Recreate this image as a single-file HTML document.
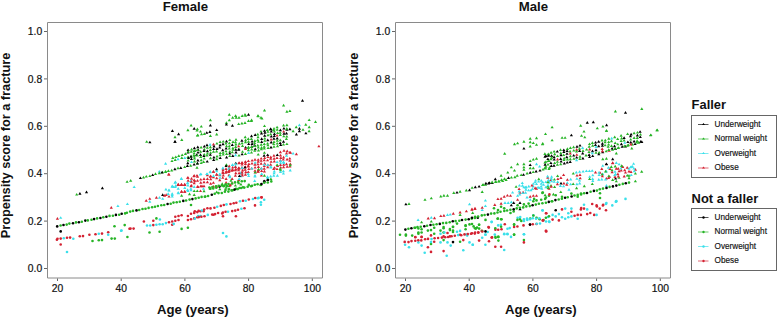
<!DOCTYPE html>
<html><head><meta charset="utf-8"><style>
html,body{margin:0;padding:0;background:#fff;}
svg{display:block;}
text{font-family:"Liberation Sans",sans-serif;fill:#111;}
.tl{font-size:10.3px;stroke:#111;stroke-width:0.2px;}
.tt{font-size:12.9px;font-weight:bold;}
.lg{font-size:8.2px;stroke:#111;stroke-width:0.15px;}
</style></head><body>
<svg width="778" height="318" viewBox="0 0 778 318">
<path d="M47.5,22.5H322.5V278H47.5Z" fill="none" stroke="#8a8a8a" stroke-width="1"/>
<line x1="44" y1="268.5" x2="47" y2="268.5" stroke="#666" stroke-width="1"/>
<text x="42.2" y="272.2" class="tl" text-anchor="end">0.0</text>
<line x1="44" y1="221.1" x2="47" y2="221.1" stroke="#666" stroke-width="1"/>
<text x="42.2" y="224.8" class="tl" text-anchor="end">0.2</text>
<line x1="44" y1="173.7" x2="47" y2="173.7" stroke="#666" stroke-width="1"/>
<text x="42.2" y="177.4" class="tl" text-anchor="end">0.4</text>
<line x1="44" y1="126.3" x2="47" y2="126.3" stroke="#666" stroke-width="1"/>
<text x="42.2" y="130.0" class="tl" text-anchor="end">0.6</text>
<line x1="44" y1="78.9" x2="47" y2="78.9" stroke="#666" stroke-width="1"/>
<text x="42.2" y="82.6" class="tl" text-anchor="end">0.8</text>
<line x1="44" y1="31.5" x2="47" y2="31.5" stroke="#666" stroke-width="1"/>
<text x="42.2" y="35.2" class="tl" text-anchor="end">1.0</text>
<line x1="57.5" y1="278.5" x2="57.5" y2="281" stroke="#666" stroke-width="1"/>
<text x="57.5" y="291.5" class="tl" text-anchor="middle">20</text>
<line x1="121.2" y1="278.5" x2="121.2" y2="281" stroke="#666" stroke-width="1"/>
<text x="121.2" y="291.5" class="tl" text-anchor="middle">40</text>
<line x1="184.9" y1="278.5" x2="184.9" y2="281" stroke="#666" stroke-width="1"/>
<text x="184.9" y="291.5" class="tl" text-anchor="middle">60</text>
<line x1="248.6" y1="278.5" x2="248.6" y2="281" stroke="#666" stroke-width="1"/>
<text x="248.6" y="291.5" class="tl" text-anchor="middle">80</text>
<line x1="312.3" y1="278.5" x2="312.3" y2="281" stroke="#666" stroke-width="1"/>
<text x="312.3" y="291.5" class="tl" text-anchor="middle">100</text>
<text x="185.4" y="10.6" class="tt" text-anchor="middle" style="font-size:13.2px">Female</text>
<text x="192.8" y="314.2" class="tt" text-anchor="middle" style="font-size:13.2px">Age (years)</text>
<text transform="translate(10.4,238.3) rotate(-90)" class="tt" style="font-size:12.75px">Propensity score for a fracture</text>
<path d="M395.5,22.5H670.5V278H395.5Z" fill="none" stroke="#8a8a8a" stroke-width="1"/>
<line x1="392" y1="268.5" x2="395" y2="268.5" stroke="#666" stroke-width="1"/>
<text x="390.2" y="272.2" class="tl" text-anchor="end">0.0</text>
<line x1="392" y1="221.1" x2="395" y2="221.1" stroke="#666" stroke-width="1"/>
<text x="390.2" y="224.8" class="tl" text-anchor="end">0.2</text>
<line x1="392" y1="173.7" x2="395" y2="173.7" stroke="#666" stroke-width="1"/>
<text x="390.2" y="177.4" class="tl" text-anchor="end">0.4</text>
<line x1="392" y1="126.3" x2="395" y2="126.3" stroke="#666" stroke-width="1"/>
<text x="390.2" y="130.0" class="tl" text-anchor="end">0.6</text>
<line x1="392" y1="78.9" x2="395" y2="78.9" stroke="#666" stroke-width="1"/>
<text x="390.2" y="82.6" class="tl" text-anchor="end">0.8</text>
<line x1="392" y1="31.5" x2="395" y2="31.5" stroke="#666" stroke-width="1"/>
<text x="390.2" y="35.2" class="tl" text-anchor="end">1.0</text>
<line x1="405.5" y1="278.5" x2="405.5" y2="281" stroke="#666" stroke-width="1"/>
<text x="405.5" y="291.5" class="tl" text-anchor="middle">20</text>
<line x1="469.2" y1="278.5" x2="469.2" y2="281" stroke="#666" stroke-width="1"/>
<text x="469.2" y="291.5" class="tl" text-anchor="middle">40</text>
<line x1="532.9" y1="278.5" x2="532.9" y2="281" stroke="#666" stroke-width="1"/>
<text x="532.9" y="291.5" class="tl" text-anchor="middle">60</text>
<line x1="596.6" y1="278.5" x2="596.6" y2="281" stroke="#666" stroke-width="1"/>
<text x="596.6" y="291.5" class="tl" text-anchor="middle">80</text>
<line x1="660.3" y1="278.5" x2="660.3" y2="281" stroke="#666" stroke-width="1"/>
<text x="660.3" y="291.5" class="tl" text-anchor="middle">100</text>
<text x="533.4" y="10.6" class="tt" text-anchor="middle" style="font-size:13.2px">Male</text>
<text x="540.8" y="314.2" class="tt" text-anchor="middle" style="font-size:13.2px">Age (years)</text>
<text transform="translate(358.4,238.3) rotate(-90)" class="tt" style="font-size:12.75px">Propensity score for a fracture</text>
<text x="691.6" y="109.2" class="tt">Faller</text>
<rect x="691.5" y="115.5" width="85" height="62" fill="none" stroke="#666" stroke-width="1"/>
<line x1="698" y1="124.5" x2="708.5" y2="124.5" stroke="#000000" stroke-width="0.9" stroke-opacity="0.75"/>
<path d="M702,125.0 L703.5,123.0 L705,125.0Z" fill="#000000"/>
<text x="714.6" y="126.9" class="lg">Underweight</text>
<line x1="698" y1="139.0" x2="708.5" y2="139.0" stroke="#26b426" stroke-width="0.9" stroke-opacity="0.75"/>
<path d="M702,139.5 L703.5,137.5 L705,139.5Z" fill="#26b426"/>
<text x="714.6" y="141.4" class="lg">Normal weight</text>
<line x1="698" y1="153.5" x2="708.5" y2="153.5" stroke="#3ae0ea" stroke-width="0.9" stroke-opacity="0.75"/>
<path d="M702,154.0 L703.5,152.0 L705,154.0Z" fill="#3ae0ea"/>
<text x="714.6" y="155.9" class="lg">Overweight</text>
<line x1="698" y1="168.0" x2="708.5" y2="168.0" stroke="#d42232" stroke-width="0.9" stroke-opacity="0.75"/>
<path d="M702,168.5 L703.5,166.5 L705,168.5Z" fill="#d42232"/>
<text x="714.6" y="170.4" class="lg">Obese</text>
<text x="691.6" y="203" class="tt">Not a faller</text>
<rect x="691.5" y="208.5" width="85" height="62" fill="none" stroke="#666" stroke-width="1"/>
<line x1="698" y1="217.5" x2="708.5" y2="217.5" stroke="#000000" stroke-width="0.9" stroke-opacity="0.75"/>
<circle cx="703.5" cy="217.5" r="1.2" fill="#000000"/>
<text x="714.6" y="219.9" class="lg">Underweight</text>
<line x1="698" y1="232.0" x2="708.5" y2="232.0" stroke="#26b426" stroke-width="0.9" stroke-opacity="0.75"/>
<circle cx="703.5" cy="232.0" r="1.2" fill="#26b426"/>
<text x="714.6" y="234.4" class="lg">Normal weight</text>
<line x1="698" y1="246.5" x2="708.5" y2="246.5" stroke="#3ae0ea" stroke-width="0.9" stroke-opacity="0.75"/>
<circle cx="703.5" cy="246.5" r="1.2" fill="#3ae0ea"/>
<text x="714.6" y="248.9" class="lg">Overweight</text>
<line x1="698" y1="261.0" x2="708.5" y2="261.0" stroke="#d42232" stroke-width="0.9" stroke-opacity="0.75"/>
<circle cx="703.5" cy="261.0" r="1.2" fill="#d42232"/>
<text x="714.6" y="263.4" class="lg">Obese</text>
<g><path d="M75.1,195.6L76.7,192.9L78.3,195.6Z" fill="#26b426"/><path d="M78.3,194.8L79.9,192.1L81.5,194.8Z" fill="#000000"/><path d="M84.9,193.2L86.5,190.6L88.1,193.2Z" fill="#000000"/><path d="M100.8,189.2L102.4,186.6L104.0,189.2Z" fill="#000000"/><path d="M109.7,208.7L111.3,206.0L112.9,208.7Z" fill="#d42232"/><path d="M116.3,207.1L117.9,204.4L119.5,207.1Z" fill="#3ae0ea"/><path d="M125.8,205.1L127.4,202.4L129.0,205.1Z" fill="#3ae0ea"/><path d="M55.8,219.7L57.4,217.0L59.0,219.7Z" fill="#d42232"/><path d="M59.1,218.8L60.7,216.2L62.3,218.8Z" fill="#3ae0ea"/><circle cx="60.7" cy="231.4" r="1.3" fill="#000000"/><circle cx="114.5" cy="226.2" r="1.3" fill="#26b426"/><circle cx="124.7" cy="225.1" r="1.3" fill="#26b426"/><circle cx="121.5" cy="230.6" r="1.3" fill="#3ae0ea"/><circle cx="56.9" cy="239.8" r="1.3" fill="#d42232"/><circle cx="57.5" cy="238.8" r="1.3" fill="#d42232"/><circle cx="60.7" cy="238.6" r="1.3" fill="#d42232"/><circle cx="67.0" cy="237.8" r="1.3" fill="#d42232"/><circle cx="70.1" cy="237.6" r="1.3" fill="#d42232"/><circle cx="79.8" cy="236.3" r="1.3" fill="#d42232"/><circle cx="83.0" cy="236.1" r="1.3" fill="#d42232"/><circle cx="89.4" cy="234.8" r="1.3" fill="#d42232"/><circle cx="95.5" cy="234.2" r="1.3" fill="#d42232"/><circle cx="102.0" cy="233.6" r="1.3" fill="#d42232"/><circle cx="108.2" cy="232.2" r="1.3" fill="#d42232"/><circle cx="129.5" cy="228.8" r="1.3" fill="#d42232"/><circle cx="63.8" cy="238.2" r="1.3" fill="#3ae0ea"/><circle cx="73.3" cy="238.8" r="1.3" fill="#3ae0ea"/><circle cx="98.8" cy="233.8" r="1.3" fill="#3ae0ea"/><circle cx="108.2" cy="234.8" r="1.3" fill="#3ae0ea"/><circle cx="121.1" cy="230.7" r="1.3" fill="#3ae0ea"/><circle cx="60.7" cy="244.5" r="1.3" fill="#d42232"/><circle cx="67.0" cy="252.0" r="1.3" fill="#3ae0ea"/><circle cx="92.5" cy="241.0" r="1.3" fill="#26b426"/><circle cx="98.8" cy="240.3" r="1.3" fill="#26b426"/><circle cx="102.0" cy="240.1" r="1.3" fill="#26b426"/><circle cx="111.6" cy="238.6" r="1.3" fill="#26b426"/><circle cx="114.8" cy="238.6" r="1.3" fill="#26b426"/><circle cx="127.4" cy="237.0" r="1.3" fill="#26b426"/><path d="M145.1,142.8L146.7,140.2L148.3,142.8Z" fill="#26b426"/><path d="M148.3,143.3L149.9,140.7L151.5,143.3Z" fill="#000000"/><path d="M170.8,132.0L172.4,129.3L174.0,132.0Z" fill="#000000"/><path d="M177.0,135.2L178.6,132.5L180.2,135.2Z" fill="#000000"/><path d="M173.4,138.2L175.0,135.5L176.6,138.2Z" fill="#26b426"/><path d="M173.4,142.8L175.0,140.2L176.6,142.8Z" fill="#000000"/><path d="M180.2,141.0L181.8,138.3L183.4,141.0Z" fill="#26b426"/><path d="M189.5,126.5L191.1,123.8L192.7,126.5Z" fill="#26b426"/><path d="M186.3,131.2L187.9,128.6L189.5,131.2Z" fill="#26b426"/><path d="M192.6,129.7L194.2,127.0L195.8,129.7Z" fill="#000000"/><path d="M195.4,131.6L197.0,128.9L198.6,131.6Z" fill="#26b426"/><path d="M196.2,136.2L197.8,133.6L199.4,136.2Z" fill="#26b426"/><path d="M125.5,182.8L127.1,180.2L128.7,182.8Z" fill="#26b426"/><path d="M129.1,181.8L130.7,179.1L132.3,181.8Z" fill="#26b426"/><path d="M157.7,172.6L159.3,169.9L160.9,172.6Z" fill="#3ae0ea"/><path d="M160.9,173.3L162.5,170.7L164.1,173.3Z" fill="#26b426"/><path d="M164.0,172.6L165.6,169.9L167.2,172.6Z" fill="#26b426"/><path d="M195.4,168.7L197.0,166.0L198.6,168.7Z" fill="#26b426"/><path d="M167.1,175.5L168.7,172.8L170.3,175.5Z" fill="#d42232"/><path d="M164.0,164.8L165.6,162.1L167.2,164.8Z" fill="#3ae0ea"/><path d="M132.6,188.1L134.2,185.4L135.8,188.1Z" fill="#3ae0ea"/><path d="M173.4,142.8L175.0,140.1L176.6,142.8Z" fill="#000000"/><path d="M173.4,183.7L175.0,181.0L176.6,183.7Z" fill="#3ae0ea"/><path d="M176.6,186.0L178.2,183.3L179.8,186.0Z" fill="#d42232"/><path d="M179.7,186.0L181.3,183.3L182.9,186.0Z" fill="#d42232"/><path d="M182.9,186.0L184.5,183.3L186.1,186.0Z" fill="#d42232"/><path d="M186.0,184.3L187.6,181.7L189.2,184.3Z" fill="#3ae0ea"/><path d="M186.0,178.8L187.6,176.2L189.2,178.8Z" fill="#d42232"/><path d="M189.9,179.7L191.5,177.0L193.1,179.7Z" fill="#d42232"/><path d="M192.3,177.3L193.9,174.7L195.5,177.3Z" fill="#d42232"/><path d="M195.4,176.6L197.0,173.9L198.6,176.6Z" fill="#d42232"/><path d="M179.7,179.7L181.3,177.0L182.9,179.7Z" fill="#3ae0ea"/><path d="M189.2,182.2L190.8,179.5L192.4,182.2Z" fill="#3ae0ea"/><path d="M193.1,182.2L194.7,179.5L196.3,182.2Z" fill="#d42232"/><path d="M171.9,188.1L173.5,185.4L175.1,188.1Z" fill="#3ae0ea"/><path d="M174.2,186.8L175.8,184.1L177.4,186.8Z" fill="#3ae0ea"/><path d="M144.6,201.8L146.2,199.1L147.8,201.8Z" fill="#d42232"/><path d="M148.2,199.8L149.8,197.2L151.4,199.8Z" fill="#d42232"/><path d="M148.2,202.8L149.8,200.1L151.4,202.8Z" fill="#3ae0ea"/><path d="M154.8,198.7L156.4,196.0L158.0,198.7Z" fill="#d42232"/><path d="M157.9,198.7L159.5,196.0L161.1,198.7Z" fill="#3ae0ea"/><path d="M161.1,196.0L162.7,193.3L164.3,196.0Z" fill="#000000"/><path d="M162.9,196.7L164.5,194.0L166.1,196.7Z" fill="#d42232"/><path d="M164.6,196.0L166.2,193.3L167.8,196.0Z" fill="#d42232"/><path d="M167.4,197.6L169.0,194.9L170.6,197.6Z" fill="#d42232"/><path d="M161.1,199.8L162.7,197.2L164.3,199.8Z" fill="#3ae0ea"/><path d="M170.6,196.0L172.2,193.3L173.8,196.0Z" fill="#3ae0ea"/><path d="M166.6,195.0L168.2,192.3L169.8,195.0Z" fill="#3ae0ea"/><path d="M164.3,190.5L165.9,187.8L167.5,190.5Z" fill="#3ae0ea"/><path d="M167.4,191.2L169.0,188.6L170.6,191.2Z" fill="#3ae0ea"/><path d="M170.6,187.2L172.2,184.6L173.8,187.2Z" fill="#3ae0ea"/><path d="M173.7,188.1L175.3,185.4L176.9,188.1Z" fill="#3ae0ea"/><path d="M176.9,186.1L178.5,183.4L180.1,186.1Z" fill="#d42232"/><path d="M180.0,186.1L181.6,183.4L183.2,186.1Z" fill="#d42232"/><path d="M183.1,186.1L184.7,183.4L186.3,186.1Z" fill="#d42232"/><path d="M186.3,186.5L187.9,183.8L189.5,186.5Z" fill="#3ae0ea"/><path d="M189.4,187.2L191.0,184.6L192.6,187.2Z" fill="#d42232"/><path d="M196.5,188.1L198.1,185.4L199.7,188.1Z" fill="#d42232"/><path d="M200.4,187.2L202.0,184.6L203.6,187.2Z" fill="#d42232"/><path d="M176.9,194.3L178.5,191.7L180.1,194.3Z" fill="#3ae0ea"/><path d="M180.0,192.8L181.6,190.1L183.2,192.8Z" fill="#d42232"/><path d="M183.1,192.8L184.7,190.1L186.3,192.8Z" fill="#d42232"/><path d="M186.3,192.1L187.9,189.4L189.5,192.1Z" fill="#3ae0ea"/><path d="M189.4,191.2L191.0,188.6L192.6,191.2Z" fill="#3ae0ea"/><path d="M192.6,192.1L194.2,189.4L195.8,192.1Z" fill="#26b426"/><path d="M195.7,192.1L197.3,189.4L198.9,192.1Z" fill="#26b426"/><path d="M198.9,192.1L200.5,189.4L202.1,192.1Z" fill="#d42232"/><path d="M180.0,196.8L181.6,194.1L183.2,196.8Z" fill="#26b426"/><path d="M187.9,195.2L189.5,192.5L191.1,195.2Z" fill="#26b426"/><path d="M192.6,196.0L194.2,193.3L195.8,196.0Z" fill="#26b426"/><circle cx="191.0" cy="205.0" r="1.3" fill="#26b426"/><circle cx="175.3" cy="216.8" r="1.3" fill="#d42232"/><circle cx="178.5" cy="216.0" r="1.3" fill="#d42232"/><circle cx="181.6" cy="215.2" r="1.3" fill="#d42232"/><circle cx="187.9" cy="216.0" r="1.3" fill="#d42232"/><circle cx="191.0" cy="213.7" r="1.3" fill="#d42232"/><circle cx="194.2" cy="212.9" r="1.3" fill="#d42232"/><circle cx="197.3" cy="212.1" r="1.3" fill="#d42232"/><circle cx="200.5" cy="211.3" r="1.3" fill="#d42232"/><circle cx="203.6" cy="211.3" r="1.3" fill="#d42232"/><circle cx="187.9" cy="220.0" r="1.3" fill="#d42232"/><circle cx="191.0" cy="219.2" r="1.3" fill="#d42232"/><circle cx="194.2" cy="218.4" r="1.3" fill="#d42232"/><circle cx="197.3" cy="217.2" r="1.3" fill="#d42232"/><circle cx="153.3" cy="225.1" r="1.3" fill="#d42232"/><circle cx="169.0" cy="222.3" r="1.3" fill="#d42232"/><circle cx="172.2" cy="221.5" r="1.3" fill="#d42232"/><circle cx="175.3" cy="220.7" r="1.3" fill="#d42232"/><circle cx="178.5" cy="220.0" r="1.3" fill="#d42232"/><circle cx="172.2" cy="224.7" r="1.3" fill="#d42232"/><circle cx="143.9" cy="221.5" r="1.3" fill="#d42232"/><circle cx="153.3" cy="220.7" r="1.3" fill="#d42232"/><circle cx="130.5" cy="228.6" r="1.3" fill="#d42232"/><circle cx="133.6" cy="228.6" r="1.3" fill="#d42232"/><circle cx="198.1" cy="216.0" r="1.3" fill="#3ae0ea"/><circle cx="200.5" cy="216.0" r="1.3" fill="#3ae0ea"/><circle cx="147.0" cy="225.5" r="1.3" fill="#3ae0ea"/><circle cx="150.2" cy="225.5" r="1.3" fill="#3ae0ea"/><circle cx="156.4" cy="224.7" r="1.3" fill="#3ae0ea"/><circle cx="159.6" cy="224.2" r="1.3" fill="#3ae0ea"/><circle cx="162.7" cy="224.2" r="1.3" fill="#3ae0ea"/><circle cx="165.9" cy="223.1" r="1.3" fill="#3ae0ea"/><circle cx="173.7" cy="223.9" r="1.3" fill="#3ae0ea"/><circle cx="159.9" cy="219.5" r="1.3" fill="#3ae0ea"/><circle cx="156.4" cy="218.4" r="1.3" fill="#26b426"/><circle cx="181.6" cy="228.9" r="1.3" fill="#26b426"/><circle cx="187.9" cy="227.8" r="1.3" fill="#26b426"/><circle cx="159.6" cy="231.7" r="1.3" fill="#26b426"/><circle cx="149.5" cy="232.5" r="1.3" fill="#26b426"/><path d="M227.7,115.7L229.3,113.0L230.9,115.7Z" fill="#26b426"/><path d="M231.1,118.8L232.7,116.1L234.3,118.8Z" fill="#26b426"/><path d="M234.0,116.9L235.6,114.2L237.2,116.9Z" fill="#26b426"/><path d="M234.6,118.8L236.2,116.1L237.8,118.8Z" fill="#26b426"/><path d="M237.4,118.8L239.0,116.1L240.6,118.8Z" fill="#26b426"/><path d="M240.6,116.9L242.2,114.2L243.8,116.9Z" fill="#26b426"/><path d="M243.4,115.7L245.0,113.0L246.6,115.7Z" fill="#26b426"/><path d="M244.0,116.7L245.6,114.0L247.2,116.7Z" fill="#26b426"/><path d="M262.9,111.4L264.5,108.7L266.1,111.4Z" fill="#26b426"/><path d="M256.3,116.9L257.9,114.2L259.5,116.9Z" fill="#26b426"/><path d="M259.4,118.8L261.0,116.1L262.6,118.8Z" fill="#26b426"/><path d="M237.1,125.1L238.7,122.4L240.3,125.1Z" fill="#26b426"/><path d="M240.3,124.5L241.9,121.8L243.5,124.5Z" fill="#26b426"/><path d="M243.4,124.0L245.0,121.3L246.6,124.0Z" fill="#26b426"/><path d="M246.9,122.0L248.5,119.3L250.1,122.0Z" fill="#26b426"/><path d="M250.0,121.2L251.6,118.6L253.2,121.2Z" fill="#26b426"/><path d="M208.8,121.2L210.4,118.6L212.0,121.2Z" fill="#26b426"/><path d="M227.7,121.2L229.3,118.6L230.9,121.2Z" fill="#26b426"/><path d="M224.8,124.0L226.4,121.3L228.0,124.0Z" fill="#26b426"/><path d="M199.7,127.6L201.3,124.9L202.9,127.6Z" fill="#26b426"/><path d="M195.8,130.2L197.4,127.6L199.0,130.2Z" fill="#26b426"/><path d="M198.9,132.6L200.5,129.9L202.1,132.6Z" fill="#26b426"/><path d="M215.1,135.5L216.7,132.8L218.3,135.5Z" fill="#26b426"/><path d="M208.8,137.0L210.4,134.3L212.0,137.0Z" fill="#26b426"/><path d="M202.8,135.0L204.4,132.3L206.0,135.0Z" fill="#26b426"/><path d="M195.8,136.6L197.4,133.9L199.0,136.6Z" fill="#26b426"/><path d="M199.9,135.3L201.5,132.7L203.1,135.3Z" fill="#26b426"/><path d="M262.9,127.1L264.5,124.4L266.1,127.1Z" fill="#26b426"/><path d="M259.4,132.6L261.0,129.9L262.6,132.6Z" fill="#26b426"/><path d="M265.7,131.1L267.3,128.4L268.9,131.1Z" fill="#26b426"/><path d="M272.0,131.1L273.6,128.4L275.2,131.1Z" fill="#26b426"/><path d="M246.9,115.7L248.5,113.0L250.1,115.7Z" fill="#000000"/><path d="M208.8,126.4L210.4,123.7L212.0,126.4Z" fill="#000000"/><path d="M224.8,125.6L226.4,122.9L228.0,125.6Z" fill="#000000"/><path d="M230.8,126.7L232.4,124.0L234.0,126.7Z" fill="#000000"/><path d="M205.2,133.8L206.8,131.2L208.4,133.8Z" fill="#000000"/><path d="M208.3,133.0L209.9,130.3L211.5,133.0Z" fill="#000000"/><path d="M215.1,131.1L216.7,128.4L218.3,131.1Z" fill="#000000"/><path d="M262.9,131.8L264.5,129.2L266.1,131.8Z" fill="#000000"/><path d="M268.9,130.2L270.5,127.6L272.1,130.2Z" fill="#000000"/><path d="M282.0,106.4L283.6,103.7L285.2,106.4Z" fill="#26b426"/><path d="M285.3,112.7L286.9,110.0L288.5,112.7Z" fill="#26b426"/><path d="M288.3,112.1L289.9,109.4L291.5,112.1Z" fill="#26b426"/><path d="M307.6,121.1L309.2,118.4L310.8,121.1Z" fill="#26b426"/><path d="M313.9,123.0L315.5,120.3L317.1,123.0Z" fill="#26b426"/><path d="M304.2,125.7L305.8,123.0L307.4,125.7Z" fill="#26b426"/><path d="M294.6,128.2L296.2,125.5L297.8,128.2Z" fill="#26b426"/><path d="M307.6,128.2L309.2,125.5L310.8,128.2Z" fill="#26b426"/><path d="M260.4,119.6L262.0,116.9L263.6,119.6Z" fill="#26b426"/><path d="M282.0,126.5L283.6,123.8L285.2,126.5Z" fill="#26b426"/><path d="M285.3,126.2L286.9,123.5L288.5,126.2Z" fill="#26b426"/><path d="M272.4,129.7L274.0,127.0L275.6,129.7Z" fill="#26b426"/><path d="M275.5,128.3L277.1,125.7L278.7,128.3Z" fill="#26b426"/><path d="M307.5,132.2L309.1,129.6L310.7,132.2Z" fill="#26b426"/><path d="M301.4,130.8L303.0,128.2L304.6,130.8Z" fill="#26b426"/><path d="M291.5,132.2L293.1,129.6L294.7,132.2Z" fill="#26b426"/><path d="M256.6,117.2L258.2,114.5L259.8,117.2Z" fill="#26b426"/><path d="M249.8,122.0L251.4,119.3L253.0,122.0Z" fill="#26b426"/><path d="M300.9,101.8L302.5,99.1L304.1,101.8Z" fill="#000000"/><path d="M297.8,129.7L299.4,127.0L301.0,129.7Z" fill="#000000"/><path d="M269.2,130.2L270.8,127.6L272.4,130.2Z" fill="#000000"/><path d="M285.3,130.7L286.9,128.0L288.5,130.7Z" fill="#000000"/><path d="M288.3,130.2L289.9,127.6L291.5,130.2Z" fill="#000000"/><path d="M304.3,134.3L305.9,131.7L307.5,134.3Z" fill="#000000"/><path d="M294.8,135.5L296.4,132.8L298.0,135.5Z" fill="#000000"/><path d="M297.8,132.2L299.4,129.5L301.0,132.2Z" fill="#000000"/><path d="M297.8,126.2L299.4,123.5L301.0,126.2Z" fill="#3ae0ea"/><path d="M317.3,147.3L318.9,144.7L320.5,147.3Z" fill="#d42232"/><path d="M278.8,153.2L280.4,150.5L282.0,153.2Z" fill="#d42232"/><path d="M282.4,151.7L284.0,149.0L285.6,151.7Z" fill="#d42232"/><path d="M285.6,152.2L287.2,149.5L288.8,152.2Z" fill="#d42232"/><path d="M294.8,155.2L296.4,152.6L298.0,155.2Z" fill="#d42232"/><path d="M288.9,153.8L290.5,151.1L292.1,153.8Z" fill="#d42232"/><path d="M291.5,154.6L293.1,151.9L294.7,154.6Z" fill="#3ae0ea"/><path d="M262.5,156.8L264.1,154.1L265.7,156.8Z" fill="#000000"/><path d="M266.1,156.1L267.7,153.4L269.3,156.1Z" fill="#000000"/><path d="M256.6,155.6L258.2,152.9L259.8,155.6Z" fill="#26b426"/><path d="M262.8,153.8L264.4,151.2L266.0,153.8Z" fill="#26b426"/><path d="M262.5,182.2L264.1,179.5L265.7,182.2Z" fill="#000000"/><path d="M266.1,180.8L267.7,178.1L269.3,180.8Z" fill="#000000"/><path d="M266.1,178.7L267.7,176.0L269.3,178.7Z" fill="#3ae0ea"/><path d="M269.3,180.1L270.9,177.4L272.5,180.1Z" fill="#26b426"/><path d="M259.3,186.1L260.9,183.4L262.5,186.1Z" fill="#26b426"/><path d="M259.8,176.6L261.4,173.9L263.0,176.6Z" fill="#d42232"/><path d="M253.4,177.6L255.0,174.9L256.6,177.6Z" fill="#3ae0ea"/><path d="M278.9,171.2L280.5,168.5L282.1,171.2Z" fill="#26b426"/><circle cx="257.8" cy="198.3" r="1.3" fill="#3ae0ea"/><circle cx="261.4" cy="197.2" r="1.3" fill="#d42232"/><circle cx="264.2" cy="199.7" r="1.3" fill="#3ae0ea"/><circle cx="260.9" cy="202.2" r="1.3" fill="#3ae0ea"/><circle cx="260.9" cy="204.7" r="1.3" fill="#3ae0ea"/><circle cx="255.0" cy="205.4" r="1.3" fill="#d42232"/><circle cx="225.5" cy="189.9" r="1.3" fill="#26b426"/><circle cx="229.0" cy="189.2" r="1.3" fill="#26b426"/><circle cx="232.5" cy="190.2" r="1.3" fill="#26b426"/><circle cx="236.0" cy="188.9" r="1.3" fill="#26b426"/><circle cx="239.5" cy="188.0" r="1.3" fill="#26b426"/><circle cx="243.0" cy="187.3" r="1.3" fill="#26b426"/><circle cx="248.8" cy="184.9" r="1.3" fill="#26b426"/><circle cx="252.0" cy="185.7" r="1.3" fill="#26b426"/><circle cx="264.4" cy="181.4" r="1.3" fill="#000000"/><circle cx="267.9" cy="180.0" r="1.3" fill="#000000"/><circle cx="260.8" cy="184.9" r="1.3" fill="#26b426"/><circle cx="223.0" cy="233.0" r="1.3" fill="#3ae0ea"/><circle cx="226.4" cy="236.4" r="1.3" fill="#3ae0ea"/><circle cx="222.9" cy="212.5" r="1.3" fill="#d42232"/><circle cx="235.9" cy="216.3" r="1.3" fill="#d42232"/><circle cx="223.0" cy="216.3" r="1.3" fill="#d42232"/><circle cx="213.6" cy="214.7" r="1.3" fill="#d42232"/><path d="M176.6,185.5L178.2,182.8L179.8,185.5Z" fill="#d42232"/><path d="M179.9,185.5L181.5,182.8L183.1,185.5Z" fill="#d42232"/><path d="M183.2,185.5L184.8,182.8L186.4,185.5Z" fill="#d42232"/><path d="M186.5,178.8L188.1,176.2L189.7,178.8Z" fill="#d42232"/><path d="M189.8,182.8L191.4,180.1L193.0,182.8Z" fill="#d42232"/><path d="M189.8,186.6L191.4,183.9L193.0,186.6Z" fill="#d42232"/><path d="M192.6,176.7L194.2,174.0L195.8,176.7Z" fill="#d42232"/><path d="M192.6,181.1L194.2,178.4L195.8,181.1Z" fill="#d42232"/><path d="M195.9,181.7L197.5,179.0L199.1,181.7Z" fill="#d42232"/><path d="M195.9,187.7L197.5,185.0L199.1,187.7Z" fill="#d42232"/><path d="M199.2,180.6L200.8,177.9L202.4,180.6Z" fill="#d42232"/><path d="M199.2,187.2L200.8,184.5L202.4,187.2Z" fill="#d42232"/><path d="M202.4,180.0L204.0,177.3L205.6,180.0Z" fill="#d42232"/><path d="M202.4,187.2L204.0,184.5L205.6,187.2Z" fill="#d42232"/><path d="M205.8,180.0L207.4,177.3L209.0,180.0Z" fill="#d42232"/><path d="M209.1,177.2L210.7,174.5L212.3,177.2Z" fill="#d42232"/><path d="M209.1,180.2L210.7,177.5L212.3,180.2Z" fill="#d42232"/><path d="M211.8,172.8L213.4,170.2L215.0,172.8Z" fill="#d42232"/><path d="M211.8,183.8L213.4,181.2L215.0,183.8Z" fill="#d42232"/><path d="M215.1,175.6L216.7,172.9L218.3,175.6Z" fill="#d42232"/><path d="M215.1,187.7L216.7,185.0L218.3,187.7Z" fill="#d42232"/><path d="M221.2,173.3L222.8,170.7L224.4,173.3Z" fill="#d42232"/><path d="M224.5,172.8L226.1,170.2L227.7,172.8Z" fill="#d42232"/><path d="M227.4,172.2L229.0,169.5L230.6,172.2Z" fill="#d42232"/><path d="M230.5,171.7L232.1,169.0L233.7,171.7Z" fill="#d42232"/><path d="M221.2,178.8L222.8,176.2L224.4,178.8Z" fill="#d42232"/><path d="M224.5,180.0L226.1,177.3L227.7,180.0Z" fill="#d42232"/><path d="M230.5,180.0L232.1,177.3L233.7,180.0Z" fill="#d42232"/><path d="M233.8,176.7L235.4,174.0L237.0,176.7Z" fill="#d42232"/><path d="M237.1,181.1L238.7,178.4L240.3,181.1Z" fill="#d42232"/><path d="M240.3,174.7L241.9,172.0L243.5,174.7Z" fill="#d42232"/><path d="M179.9,192.7L181.5,190.0L183.1,192.7Z" fill="#d42232"/><path d="M183.2,192.7L184.8,190.0L186.4,192.7Z" fill="#d42232"/><path d="M167.3,175.6L168.9,172.9L170.5,175.6Z" fill="#d42232"/><path d="M186.5,181.7L188.1,179.0L189.7,181.7Z" fill="#d42232"/><path d="M192.6,184.2L194.2,181.5L195.8,184.2Z" fill="#d42232"/><path d="M199.2,183.7L200.8,181.0L202.4,183.7Z" fill="#d42232"/><path d="M202.4,183.2L204.0,180.5L205.6,183.2Z" fill="#d42232"/><path d="M205.8,183.2L207.4,180.5L209.0,183.2Z" fill="#d42232"/><path d="M209.1,184.7L210.7,182.0L212.3,184.7Z" fill="#d42232"/><path d="M211.8,178.2L213.4,175.5L215.0,178.2Z" fill="#d42232"/><path d="M215.1,179.2L216.7,176.5L218.3,179.2Z" fill="#d42232"/><path d="M218.2,176.2L219.8,173.5L221.4,176.2Z" fill="#d42232"/><path d="M218.2,181.2L219.8,178.5L221.4,181.2Z" fill="#d42232"/><path d="M227.4,176.2L229.0,173.5L230.6,176.2Z" fill="#d42232"/><path d="M233.8,171.2L235.4,168.5L237.0,171.2Z" fill="#d42232"/><path d="M237.1,169.7L238.7,167.0L240.3,169.7Z" fill="#d42232"/><path d="M240.3,168.7L241.9,166.0L243.5,168.7Z" fill="#d42232"/><path d="M205.8,176.2L207.4,173.5L209.0,176.2Z" fill="#d42232"/><path d="M195.9,177.7L197.5,175.0L199.1,177.7Z" fill="#d42232"/><path d="M211.8,187.7L213.4,185.0L215.0,187.7Z" fill="#d42232"/><path d="M224.5,183.7L226.1,181.0L227.7,183.7Z" fill="#d42232"/><path d="M230.5,184.2L232.1,181.5L233.7,184.2Z" fill="#d42232"/><path d="M179.9,180.0L181.5,177.3L183.1,180.0Z" fill="#3ae0ea"/><path d="M173.9,183.2L175.5,180.6L177.1,183.2Z" fill="#3ae0ea"/><path d="M170.6,187.7L172.2,185.0L173.8,187.7Z" fill="#3ae0ea"/><path d="M167.3,191.6L168.9,188.9L170.5,191.6Z" fill="#3ae0ea"/><path d="M170.6,194.8L172.2,192.2L173.8,194.8Z" fill="#3ae0ea"/><path d="M170.6,197.6L172.2,194.9L173.8,197.6Z" fill="#3ae0ea"/><path d="M176.6,193.8L178.2,191.1L179.8,193.8Z" fill="#3ae0ea"/><path d="M186.0,183.8L187.6,181.2L189.2,183.8Z" fill="#3ae0ea"/><path d="M186.0,191.0L187.6,188.3L189.2,191.0Z" fill="#3ae0ea"/><path d="M189.3,189.8L190.9,187.2L192.5,189.8Z" fill="#3ae0ea"/><path d="M192.6,188.0L194.2,185.3L195.8,188.0Z" fill="#3ae0ea"/><path d="M198.6,175.6L200.2,172.9L201.8,175.6Z" fill="#3ae0ea"/><path d="M201.9,189.8L203.5,187.2L205.1,189.8Z" fill="#3ae0ea"/><path d="M205.2,175.1L206.8,172.4L208.4,175.1Z" fill="#3ae0ea"/><path d="M208.5,173.3L210.1,170.7L211.7,173.3Z" fill="#3ae0ea"/><path d="M218.4,175.6L220.0,172.9L221.6,175.6Z" fill="#3ae0ea"/><path d="M218.4,178.8L220.0,176.2L221.6,178.8Z" fill="#3ae0ea"/><path d="M228.3,178.3L229.9,175.7L231.5,178.3Z" fill="#3ae0ea"/><path d="M239.3,174.0L240.9,171.3L242.5,174.0Z" fill="#3ae0ea"/><path d="M239.3,177.2L240.9,174.5L242.5,177.2Z" fill="#3ae0ea"/><path d="M215.1,172.2L216.7,169.5L218.3,172.2Z" fill="#3ae0ea"/><path d="M221.4,169.7L223.0,167.0L224.6,169.7Z" fill="#3ae0ea"/><path d="M227.4,168.7L229.0,166.0L230.6,168.7Z" fill="#3ae0ea"/><path d="M233.8,167.7L235.4,165.0L237.0,167.7Z" fill="#3ae0ea"/><path d="M183.2,189.0L184.8,186.3L186.4,189.0Z" fill="#3ae0ea"/><path d="M176.6,189.7L178.2,187.0L179.8,189.7Z" fill="#3ae0ea"/><path d="M220.6,185.0L222.2,182.3L223.8,185.0Z" fill="#26b426"/><path d="M222.8,186.6L224.4,183.9L226.0,186.6Z" fill="#26b426"/><path d="M224.5,188.8L226.1,186.1L227.7,188.8Z" fill="#26b426"/><path d="M229.4,181.7L231.0,179.0L232.6,181.7Z" fill="#26b426"/><path d="M233.8,186.6L235.4,183.9L237.0,186.6Z" fill="#26b426"/><path d="M239.3,185.5L240.9,182.8L242.5,185.5Z" fill="#26b426"/><path d="M208.5,189.8L210.1,187.2L211.7,189.8Z" fill="#26b426"/><path d="M215.1,193.2L216.7,190.5L218.3,193.2Z" fill="#26b426"/><path d="M218.2,190.2L219.8,187.5L221.4,190.2Z" fill="#26b426"/><path d="M202.4,192.2L204.0,189.5L205.6,192.2Z" fill="#26b426"/><path d="M227.4,187.2L229.0,184.5L230.6,187.2Z" fill="#26b426"/><path d="M237.1,184.2L238.7,181.5L240.3,184.2Z" fill="#26b426"/><path d="M227.6,167.2L229.2,164.5L230.8,167.2Z" fill="#d42232"/><path d="M227.6,169.7L229.2,167.0L230.8,169.7Z" fill="#d42232"/><path d="M231.1,171.1L232.7,168.4L234.3,171.1Z" fill="#d42232"/><path d="M234.2,170.2L235.8,167.6L237.4,170.2Z" fill="#d42232"/><path d="M237.4,164.3L239.0,161.7L240.6,164.3Z" fill="#d42232"/><path d="M237.4,169.2L239.0,166.5L240.6,169.2Z" fill="#d42232"/><path d="M240.5,164.1L242.1,161.4L243.7,164.1Z" fill="#d42232"/><path d="M240.5,169.2L242.1,166.5L243.7,169.2Z" fill="#d42232"/><path d="M243.7,162.8L245.3,160.2L246.9,162.8Z" fill="#d42232"/><path d="M243.7,168.0L245.3,165.3L246.9,168.0Z" fill="#d42232"/><path d="M246.8,167.6L248.4,164.9L250.0,167.6Z" fill="#d42232"/><path d="M224.4,173.8L226.0,171.2L227.6,173.8Z" fill="#d42232"/><path d="M221.3,174.2L222.9,171.6L224.5,174.2Z" fill="#d42232"/><path d="M211.9,172.7L213.5,170.0L215.1,172.7Z" fill="#d42232"/><path d="M208.7,177.8L210.3,175.1L211.9,177.8Z" fill="#d42232"/><path d="M215.0,175.8L216.6,173.1L218.2,175.8Z" fill="#d42232"/><path d="M234.2,174.2L235.8,171.6L237.4,174.2Z" fill="#d42232"/><path d="M227.2,173.1L228.8,170.4L230.4,173.1Z" fill="#d42232"/><path d="M231.1,166.0L232.7,163.3L234.3,166.0Z" fill="#3ae0ea"/><path d="M221.3,169.2L222.9,166.5L224.5,169.2Z" fill="#3ae0ea"/><path d="M208.7,172.7L210.3,170.0L211.9,172.7Z" fill="#3ae0ea"/><path d="M205.6,175.1L207.2,172.4L208.8,175.1Z" fill="#3ae0ea"/><path d="M199.3,175.1L200.9,172.4L202.5,175.1Z" fill="#3ae0ea"/><path d="M211.9,177.0L213.5,174.3L215.1,177.0Z" fill="#3ae0ea"/><path d="M218.1,175.3L219.7,172.7L221.3,175.3Z" fill="#3ae0ea"/><path d="M228.0,177.0L229.6,174.3L231.2,177.0Z" fill="#3ae0ea"/><path d="M215.0,170.2L216.6,167.6L218.2,170.2Z" fill="#000000"/><path d="M234.2,164.3L235.8,161.7L237.4,164.3Z" fill="#000000"/><path d="M224.8,166.0L226.4,163.3L228.0,166.0Z" fill="#26b426"/><circle cx="57.2" cy="226.4" r="1.3" fill="#000000"/><circle cx="60.6" cy="225.5" r="1.3" fill="#26b426"/><circle cx="63.5" cy="225.0" r="1.3" fill="#000000"/><circle cx="66.7" cy="224.6" r="1.3" fill="#26b426"/><circle cx="69.4" cy="223.6" r="1.3" fill="#26b426"/><circle cx="73.0" cy="223.2" r="1.3" fill="#000000"/><circle cx="76.0" cy="222.4" r="1.3" fill="#26b426"/><circle cx="78.9" cy="222.2" r="1.3" fill="#000000"/><circle cx="81.8" cy="221.8" r="1.3" fill="#26b426"/><circle cx="85.3" cy="220.6" r="1.3" fill="#000000"/><circle cx="87.8" cy="220.4" r="1.3" fill="#26b426"/><circle cx="91.5" cy="219.7" r="1.3" fill="#26b426"/><circle cx="94.1" cy="219.1" r="1.3" fill="#000000"/><circle cx="97.1" cy="218.4" r="1.3" fill="#26b426"/><circle cx="100.4" cy="218.0" r="1.3" fill="#000000"/><circle cx="103.3" cy="217.2" r="1.3" fill="#26b426"/><circle cx="106.4" cy="216.8" r="1.3" fill="#000000"/><circle cx="109.5" cy="215.9" r="1.3" fill="#26b426"/><circle cx="112.9" cy="215.7" r="1.3" fill="#26b426"/><circle cx="115.9" cy="214.9" r="1.3" fill="#000000"/><circle cx="119.2" cy="214.7" r="1.3" fill="#26b426"/><circle cx="121.7" cy="213.8" r="1.3" fill="#000000"/><circle cx="125.1" cy="213.4" r="1.3" fill="#26b426"/><path d="M138.8,179.1L140.4,176.4L142.0,179.1Z" fill="#000000"/><path d="M141.9,178.5L143.5,175.8L145.1,178.5Z" fill="#26b426"/><path d="M144.7,177.6L146.3,175.0L147.9,177.6Z" fill="#26b426"/><path d="M148.3,177.0L149.9,174.4L151.5,177.0Z" fill="#26b426"/><path d="M151.1,176.0L152.7,173.4L154.3,176.0Z" fill="#000000"/><path d="M153.9,174.9L155.5,172.3L157.1,174.9Z" fill="#26b426"/><path d="M157.7,174.3L159.3,171.6L160.9,174.3Z" fill="#26b426"/><path d="M160.4,173.6L162.0,170.9L163.6,173.6Z" fill="#000000"/><path d="M164.0,172.9L165.6,170.2L167.2,172.9Z" fill="#26b426"/><path d="M166.8,171.9L168.4,169.3L170.0,171.9Z" fill="#26b426"/><path d="M170.1,171.4L171.7,168.7L173.3,171.4Z" fill="#26b426"/><path d="M173.3,170.3L174.9,167.6L176.5,170.3Z" fill="#000000"/><path d="M176.4,169.2L178.0,166.5L179.6,169.2Z" fill="#26b426"/><path d="M179.2,168.9L180.8,166.3L182.4,168.9Z" fill="#000000"/><path d="M183.1,168.0L184.7,165.4L186.3,168.0Z" fill="#26b426"/><path d="M185.8,166.9L187.4,164.2L189.0,166.9Z" fill="#000000"/><path d="M189.1,166.7L190.7,164.1L192.3,166.7Z" fill="#26b426"/><path d="M192.5,165.6L194.1,162.9L195.7,165.6Z" fill="#000000"/><path d="M195.7,164.5L197.3,161.9L198.9,164.5Z" fill="#26b426"/><path d="M170.4,162.1L172.0,159.5L173.6,162.1Z" fill="#26b426"/><path d="M173.6,160.9L175.2,158.2L176.8,160.9Z" fill="#26b426"/><path d="M176.4,160.2L178.0,157.5L179.6,160.2Z" fill="#3ae0ea"/><path d="M180.2,158.9L181.8,156.3L183.4,158.9Z" fill="#26b426"/><path d="M183.2,159.0L184.8,156.3L186.4,159.0Z" fill="#3ae0ea"/><path d="M186.4,158.1L188.0,155.5L189.6,158.1Z" fill="#26b426"/><path d="M189.5,157.2L191.1,154.5L192.7,157.2Z" fill="#26b426"/><path d="M192.3,156.3L193.9,153.7L195.5,156.3Z" fill="#26b426"/><path d="M195.0,156.0L196.6,153.4L198.2,156.0Z" fill="#000000"/><path d="M171.2,158.9L172.8,156.3L174.4,158.9Z" fill="#26b426"/><path d="M174.2,158.1L175.8,155.5L177.4,158.1Z" fill="#26b426"/><path d="M177.2,156.9L178.8,154.3L180.4,156.9Z" fill="#26b426"/><path d="M180.6,156.1L182.2,153.5L183.8,156.1Z" fill="#26b426"/><path d="M183.8,154.9L185.4,152.2L187.0,154.9Z" fill="#26b426"/><path d="M186.3,153.5L187.9,150.9L189.5,153.5Z" fill="#000000"/><path d="M189.6,152.8L191.2,150.2L192.8,152.8Z" fill="#26b426"/><path d="M193.4,151.9L195.0,149.3L196.6,151.9Z" fill="#26b426"/><path d="M196.5,150.9L198.1,148.2L199.7,150.9Z" fill="#000000"/><circle cx="126.9" cy="212.7" r="1.3" fill="#26b426"/><circle cx="130.2" cy="211.6" r="1.3" fill="#26b426"/><circle cx="133.0" cy="210.9" r="1.3" fill="#26b426"/><circle cx="136.5" cy="210.4" r="1.3" fill="#000000"/><circle cx="139.2" cy="210.0" r="1.3" fill="#26b426"/><circle cx="142.5" cy="209.0" r="1.3" fill="#26b426"/><circle cx="145.5" cy="208.7" r="1.3" fill="#26b426"/><circle cx="148.6" cy="207.9" r="1.3" fill="#26b426"/><circle cx="152.1" cy="207.3" r="1.3" fill="#26b426"/><circle cx="155.0" cy="206.7" r="1.3" fill="#26b426"/><circle cx="157.9" cy="206.0" r="1.3" fill="#26b426"/><circle cx="161.3" cy="205.2" r="1.3" fill="#26b426"/><circle cx="164.2" cy="205.0" r="1.3" fill="#26b426"/><circle cx="167.6" cy="204.0" r="1.3" fill="#000000"/><circle cx="170.7" cy="203.7" r="1.3" fill="#26b426"/><circle cx="173.5" cy="202.6" r="1.3" fill="#26b426"/><circle cx="176.7" cy="202.3" r="1.3" fill="#26b426"/><circle cx="179.8" cy="201.7" r="1.3" fill="#26b426"/><circle cx="183.3" cy="200.9" r="1.3" fill="#000000"/><circle cx="186.1" cy="200.5" r="1.3" fill="#26b426"/><circle cx="189.6" cy="199.6" r="1.3" fill="#26b426"/><circle cx="192.4" cy="199.1" r="1.3" fill="#000000"/><circle cx="195.6" cy="198.4" r="1.3" fill="#26b426"/><circle cx="198.7" cy="197.8" r="1.3" fill="#26b426"/><circle cx="201.6" cy="196.9" r="1.3" fill="#26b426"/><circle cx="205.3" cy="196.6" r="1.3" fill="#26b426"/><circle cx="204.8" cy="196.7" r="1.3" fill="#26b426"/><circle cx="208.1" cy="196.0" r="1.3" fill="#26b426"/><circle cx="211.8" cy="194.8" r="1.3" fill="#000000"/><circle cx="214.7" cy="193.8" r="1.3" fill="#26b426"/><circle cx="218.5" cy="193.1" r="1.3" fill="#26b426"/><circle cx="221.8" cy="193.0" r="1.3" fill="#26b426"/><circle cx="224.9" cy="191.7" r="1.3" fill="#26b426"/><circle cx="228.4" cy="191.6" r="1.3" fill="#26b426"/><circle cx="231.6" cy="190.4" r="1.3" fill="#26b426"/><circle cx="234.6" cy="189.6" r="1.3" fill="#000000"/><circle cx="237.8" cy="189.1" r="1.3" fill="#26b426"/><circle cx="241.2" cy="188.0" r="1.3" fill="#26b426"/><circle cx="244.3" cy="187.6" r="1.3" fill="#26b426"/><circle cx="247.7" cy="186.7" r="1.3" fill="#26b426"/><circle cx="251.1" cy="186.3" r="1.3" fill="#26b426"/><circle cx="254.8" cy="184.8" r="1.3" fill="#26b426"/><circle cx="257.6" cy="184.3" r="1.3" fill="#26b426"/><circle cx="261.5" cy="184.0" r="1.3" fill="#000000"/><circle cx="264.3" cy="182.8" r="1.3" fill="#26b426"/><circle cx="267.8" cy="182.5" r="1.3" fill="#26b426"/><circle cx="271.3" cy="181.4" r="1.3" fill="#26b426"/><circle cx="210.3" cy="188.6" r="1.3" fill="#26b426"/><circle cx="213.2" cy="188.4" r="1.3" fill="#26b426"/><circle cx="216.3" cy="187.7" r="1.3" fill="#26b426"/><circle cx="219.5" cy="186.6" r="1.3" fill="#000000"/><circle cx="223.7" cy="186.2" r="1.3" fill="#26b426"/><circle cx="226.9" cy="186.1" r="1.3" fill="#26b426"/><circle cx="230.3" cy="185.4" r="1.3" fill="#d42232"/><circle cx="194.8" cy="211.3" r="1.3" fill="#d42232"/><circle cx="198.6" cy="210.9" r="1.3" fill="#d42232"/><circle cx="201.8" cy="210.5" r="1.3" fill="#3ae0ea"/><circle cx="204.2" cy="209.5" r="1.3" fill="#d42232"/><circle cx="207.4" cy="208.3" r="1.3" fill="#d42232"/><circle cx="210.5" cy="208.4" r="1.3" fill="#d42232"/><circle cx="214.4" cy="207.7" r="1.3" fill="#d42232"/><circle cx="217.2" cy="206.8" r="1.3" fill="#3ae0ea"/><circle cx="220.8" cy="205.9" r="1.3" fill="#d42232"/><circle cx="223.8" cy="205.0" r="1.3" fill="#d42232"/><circle cx="226.5" cy="204.4" r="1.3" fill="#3ae0ea"/><circle cx="230.5" cy="204.0" r="1.3" fill="#d42232"/><circle cx="233.7" cy="203.2" r="1.3" fill="#d42232"/><circle cx="236.3" cy="202.8" r="1.3" fill="#d42232"/><circle cx="240.0" cy="201.3" r="1.3" fill="#3ae0ea"/><circle cx="243.0" cy="200.7" r="1.3" fill="#d42232"/><circle cx="245.7" cy="200.8" r="1.3" fill="#3ae0ea"/><circle cx="248.8" cy="199.5" r="1.3" fill="#d42232"/><circle cx="252.9" cy="199.0" r="1.3" fill="#3ae0ea"/><circle cx="255.2" cy="198.0" r="1.3" fill="#d42232"/><circle cx="258.6" cy="197.9" r="1.3" fill="#3ae0ea"/><circle cx="261.6" cy="197.4" r="1.3" fill="#d42232"/><circle cx="194.9" cy="218.6" r="1.3" fill="#3ae0ea"/><circle cx="198.8" cy="217.1" r="1.3" fill="#d42232"/><circle cx="201.4" cy="216.7" r="1.3" fill="#d42232"/><circle cx="204.5" cy="216.3" r="1.3" fill="#d42232"/><circle cx="207.8" cy="214.9" r="1.3" fill="#3ae0ea"/><circle cx="212.2" cy="214.6" r="1.3" fill="#d42232"/><circle cx="215.1" cy="214.1" r="1.3" fill="#d42232"/><circle cx="218.1" cy="213.0" r="1.3" fill="#d42232"/><circle cx="222.2" cy="213.5" r="1.3" fill="#d42232"/><circle cx="225.6" cy="211.8" r="1.3" fill="#d42232"/><circle cx="228.0" cy="211.8" r="1.3" fill="#3ae0ea"/><circle cx="232.2" cy="211.1" r="1.3" fill="#d42232"/><circle cx="235.2" cy="210.6" r="1.3" fill="#d42232"/><circle cx="238.0" cy="209.8" r="1.3" fill="#d42232"/><circle cx="241.4" cy="208.8" r="1.3" fill="#3ae0ea"/><circle cx="244.5" cy="208.2" r="1.3" fill="#d42232"/><circle cx="209.4" cy="187.6" r="1.3" fill="#26b426"/><circle cx="212.4" cy="187.1" r="1.3" fill="#26b426"/><circle cx="215.9" cy="186.3" r="1.3" fill="#26b426"/><circle cx="218.7" cy="185.7" r="1.3" fill="#26b426"/><circle cx="221.9" cy="185.5" r="1.3" fill="#26b426"/><circle cx="225.7" cy="184.4" r="1.3" fill="#26b426"/><circle cx="228.5" cy="184.0" r="1.3" fill="#26b426"/><circle cx="232.0" cy="183.5" r="1.3" fill="#26b426"/><circle cx="235.0" cy="182.4" r="1.3" fill="#26b426"/><circle cx="238.2" cy="181.9" r="1.3" fill="#26b426"/><circle cx="241.8" cy="181.3" r="1.3" fill="#26b426"/><circle cx="244.7" cy="181.1" r="1.3" fill="#26b426"/><path d="M186.5,151.1L188.1,148.5L189.7,151.1Z" fill="#000000"/><path d="M186.7,152.8L188.3,150.1L189.9,152.8Z" fill="#26b426"/><path d="M186.9,158.9L188.5,156.2L190.1,158.9Z" fill="#000000"/><path d="M186.5,161.6L188.1,158.9L189.7,161.6Z" fill="#26b426"/><path d="M186.2,164.2L187.8,161.5L189.4,164.2Z" fill="#000000"/><path d="M190.0,150.4L191.6,147.7L193.2,150.4Z" fill="#26b426"/><path d="M189.4,157.7L191.0,155.1L192.6,157.7Z" fill="#000000"/><path d="M189.8,160.1L191.4,157.4L193.0,160.1Z" fill="#000000"/><path d="M189.9,163.0L191.5,160.4L193.1,163.0Z" fill="#3ae0ea"/><path d="M192.8,149.2L194.4,146.5L196.0,149.2Z" fill="#000000"/><path d="M192.5,152.1L194.1,149.4L195.7,152.1Z" fill="#26b426"/><path d="M192.5,154.3L194.1,151.7L195.7,154.3Z" fill="#26b426"/><path d="M192.7,157.5L194.3,154.8L195.9,157.5Z" fill="#26b426"/><path d="M192.9,159.4L194.5,156.7L196.1,159.4Z" fill="#26b426"/><path d="M192.9,162.5L194.5,159.8L196.1,162.5Z" fill="#26b426"/><path d="M196.2,148.3L197.8,145.6L199.4,148.3Z" fill="#000000"/><path d="M195.8,151.1L197.4,148.4L199.0,151.1Z" fill="#26b426"/><path d="M196.4,153.5L198.0,150.9L199.6,153.5Z" fill="#000000"/><path d="M195.7,156.4L197.3,153.8L198.9,156.4Z" fill="#26b426"/><path d="M196.3,161.4L197.9,158.7L199.5,161.4Z" fill="#000000"/><path d="M195.9,164.4L197.5,161.8L199.1,164.4Z" fill="#000000"/><path d="M199.5,148.4L201.1,145.7L202.7,148.4Z" fill="#26b426"/><path d="M199.0,152.7L200.6,150.1L202.2,152.7Z" fill="#26b426"/><path d="M198.9,155.9L200.5,153.3L202.1,155.9Z" fill="#000000"/><path d="M199.2,157.9L200.8,155.2L202.4,157.9Z" fill="#26b426"/><path d="M199.6,161.3L201.2,158.6L202.8,161.3Z" fill="#26b426"/><path d="M199.6,164.0L201.2,161.4L202.8,164.0Z" fill="#26b426"/><path d="M202.7,147.4L204.3,144.7L205.9,147.4Z" fill="#000000"/><path d="M202.7,150.4L204.3,147.7L205.9,150.4Z" fill="#26b426"/><path d="M202.4,152.0L204.0,149.3L205.6,152.0Z" fill="#000000"/><path d="M202.7,155.5L204.3,152.9L205.9,155.5Z" fill="#26b426"/><path d="M202.3,157.1L203.9,154.5L205.5,157.1Z" fill="#000000"/><path d="M202.6,159.6L204.2,156.9L205.8,159.6Z" fill="#26b426"/><path d="M202.0,162.9L203.6,160.3L205.2,162.9Z" fill="#26b426"/><path d="M205.4,146.2L207.0,143.6L208.6,146.2Z" fill="#000000"/><path d="M205.7,148.8L207.3,146.1L208.9,148.8Z" fill="#26b426"/><path d="M205.8,152.3L207.4,149.6L209.0,152.3Z" fill="#000000"/><path d="M205.9,154.6L207.5,152.0L209.1,154.6Z" fill="#26b426"/><path d="M205.4,156.4L207.0,153.8L208.6,156.4Z" fill="#26b426"/><path d="M205.6,162.6L207.2,160.0L208.8,162.6Z" fill="#000000"/><path d="M208.5,145.8L210.1,143.1L211.7,145.8Z" fill="#3ae0ea"/><path d="M208.8,148.2L210.4,145.6L212.0,148.2Z" fill="#26b426"/><path d="M208.7,150.9L210.3,148.3L211.9,150.9Z" fill="#26b426"/><path d="M209.0,153.8L210.6,151.2L212.2,153.8Z" fill="#26b426"/><path d="M208.7,155.8L210.3,153.2L211.9,155.8Z" fill="#000000"/><path d="M208.9,159.2L210.5,156.6L212.1,159.2Z" fill="#26b426"/><path d="M211.9,145.5L213.5,142.8L215.1,145.5Z" fill="#d42232"/><path d="M212.4,147.5L214.0,144.8L215.6,147.5Z" fill="#000000"/><path d="M212.0,150.1L213.6,147.5L215.2,150.1Z" fill="#000000"/><path d="M211.9,152.8L213.5,150.1L215.1,152.8Z" fill="#26b426"/><path d="M212.3,158.4L213.9,155.7L215.5,158.4Z" fill="#000000"/><path d="M212.1,160.9L213.7,158.2L215.3,160.9Z" fill="#000000"/><path d="M215.3,144.5L216.9,141.9L218.5,144.5Z" fill="#26b426"/><path d="M215.4,150.0L217.0,147.3L218.6,150.0Z" fill="#000000"/><path d="M215.0,152.4L216.6,149.8L218.2,152.4Z" fill="#26b426"/><path d="M215.4,157.4L217.0,154.7L218.6,157.4Z" fill="#26b426"/><path d="M215.2,160.3L216.8,157.6L218.4,160.3Z" fill="#26b426"/><path d="M218.5,143.1L220.1,140.5L221.7,143.1Z" fill="#26b426"/><path d="M218.5,146.2L220.1,143.5L221.7,146.2Z" fill="#000000"/><path d="M218.1,148.5L219.7,145.9L221.3,148.5Z" fill="#000000"/><path d="M218.6,154.1L220.2,151.5L221.8,154.1Z" fill="#26b426"/><path d="M218.5,156.3L220.1,153.6L221.7,156.3Z" fill="#26b426"/><path d="M218.6,159.0L220.2,156.4L221.8,159.0Z" fill="#000000"/><path d="M221.6,142.6L223.2,139.9L224.8,142.6Z" fill="#26b426"/><path d="M221.4,145.3L223.0,142.6L224.6,145.3Z" fill="#000000"/><path d="M221.1,151.3L222.7,148.6L224.3,151.3Z" fill="#000000"/><path d="M221.5,153.7L223.1,151.0L224.7,153.7Z" fill="#26b426"/><path d="M221.6,155.6L223.2,152.9L224.8,155.6Z" fill="#26b426"/><path d="M224.9,142.4L226.5,139.8L228.1,142.4Z" fill="#000000"/><path d="M224.4,144.4L226.0,141.8L227.6,144.4Z" fill="#26b426"/><path d="M224.9,147.2L226.5,144.5L228.1,147.2Z" fill="#26b426"/><path d="M224.5,149.6L226.1,147.0L227.7,149.6Z" fill="#000000"/><path d="M224.4,152.3L226.0,149.7L227.6,152.3Z" fill="#26b426"/><path d="M225.0,154.9L226.6,152.3L228.2,154.9Z" fill="#26b426"/><path d="M225.0,158.4L226.6,155.8L228.2,158.4Z" fill="#000000"/><path d="M228.2,141.1L229.8,138.5L231.4,141.1Z" fill="#26b426"/><path d="M227.8,144.2L229.4,141.5L231.0,144.2Z" fill="#26b426"/><path d="M227.7,147.2L229.3,144.5L230.9,147.2Z" fill="#26b426"/><path d="M227.7,149.6L229.3,147.0L230.9,149.6Z" fill="#26b426"/><path d="M228.2,152.6L229.8,149.9L231.4,152.6Z" fill="#26b426"/><path d="M228.2,154.4L229.8,151.7L231.4,154.4Z" fill="#000000"/><path d="M228.2,157.1L229.8,154.4L231.4,157.1Z" fill="#26b426"/><path d="M231.4,142.9L233.0,140.2L234.6,142.9Z" fill="#26b426"/><path d="M230.7,145.9L232.3,143.3L233.9,145.9Z" fill="#000000"/><path d="M231.3,149.2L232.9,146.5L234.5,149.2Z" fill="#26b426"/><path d="M231.3,150.7L232.9,148.1L234.5,150.7Z" fill="#26b426"/><path d="M230.7,153.3L232.3,150.7L233.9,153.3Z" fill="#26b426"/><path d="M231.2,156.9L232.8,154.2L234.4,156.9Z" fill="#000000"/><path d="M234.4,140.7L236.0,138.1L237.6,140.7Z" fill="#26b426"/><path d="M233.9,143.3L235.5,140.7L237.1,143.3Z" fill="#26b426"/><path d="M234.3,145.5L235.9,142.8L237.5,145.5Z" fill="#26b426"/><path d="M234.1,147.9L235.7,145.2L237.3,147.9Z" fill="#26b426"/><path d="M234.2,150.8L235.8,148.1L237.4,150.8Z" fill="#000000"/><path d="M234.4,153.5L236.0,150.8L237.6,153.5Z" fill="#000000"/><path d="M234.0,156.3L235.6,153.6L237.2,156.3Z" fill="#3ae0ea"/><path d="M237.7,144.7L239.3,142.0L240.9,144.7Z" fill="#26b426"/><path d="M237.1,147.3L238.7,144.7L240.3,147.3Z" fill="#d42232"/><path d="M237.4,150.2L239.0,147.5L240.6,150.2Z" fill="#26b426"/><path d="M240.3,141.8L241.9,139.1L243.5,141.8Z" fill="#000000"/><path d="M240.5,144.3L242.1,141.7L243.7,144.3Z" fill="#26b426"/><path d="M240.9,147.0L242.5,144.3L244.1,147.0Z" fill="#26b426"/><path d="M243.6,138.2L245.2,135.6L246.8,138.2Z" fill="#26b426"/><path d="M244.0,141.3L245.6,138.6L247.2,141.3Z" fill="#26b426"/><path d="M243.9,143.3L245.5,140.6L247.1,143.3Z" fill="#26b426"/><path d="M244.0,148.6L245.6,145.9L247.2,148.6Z" fill="#000000"/><path d="M246.7,139.9L248.3,137.3L249.9,139.9Z" fill="#26b426"/><path d="M246.9,142.8L248.5,140.1L250.1,142.8Z" fill="#26b426"/><path d="M247.1,145.0L248.7,142.4L250.3,145.0Z" fill="#000000"/><path d="M246.9,148.2L248.5,145.5L250.1,148.2Z" fill="#26b426"/><path d="M249.9,137.3L251.5,134.6L253.1,137.3Z" fill="#000000"/><path d="M249.8,140.0L251.4,137.3L253.0,140.0Z" fill="#26b426"/><path d="M250.5,142.6L252.1,139.9L253.7,142.6Z" fill="#000000"/><path d="M250.5,145.0L252.1,142.3L253.7,145.0Z" fill="#000000"/><path d="M250.2,147.8L251.8,145.1L253.4,147.8Z" fill="#000000"/><path d="M253.6,135.9L255.2,133.3L256.8,135.9Z" fill="#000000"/><path d="M253.3,141.9L254.9,139.2L256.5,141.9Z" fill="#26b426"/><path d="M253.1,144.1L254.7,141.5L256.3,144.1Z" fill="#26b426"/><path d="M253.1,146.4L254.7,143.8L256.3,146.4Z" fill="#000000"/><path d="M256.2,135.5L257.8,132.8L259.4,135.5Z" fill="#26b426"/><path d="M256.4,138.2L258.0,135.5L259.6,138.2Z" fill="#26b426"/><path d="M256.2,141.1L257.8,138.4L259.4,141.1Z" fill="#26b426"/><path d="M256.8,142.7L258.4,140.0L260.0,142.7Z" fill="#26b426"/><path d="M259.9,134.5L261.5,131.8L263.1,134.5Z" fill="#000000"/><path d="M260.1,139.9L261.7,137.2L263.3,139.9Z" fill="#000000"/><path d="M260.1,142.9L261.7,140.3L263.3,142.9Z" fill="#000000"/><path d="M263.3,133.8L264.9,131.1L266.5,133.8Z" fill="#000000"/><path d="M263.1,136.7L264.7,134.0L266.3,136.7Z" fill="#000000"/><path d="M263.2,139.6L264.8,137.0L266.4,139.6Z" fill="#26b426"/><path d="M263.2,141.8L264.8,139.2L266.4,141.8Z" fill="#26b426"/><path d="M266.3,132.8L267.9,130.2L269.5,132.8Z" fill="#26b426"/><path d="M266.4,136.3L268.0,133.6L269.6,136.3Z" fill="#26b426"/><path d="M266.2,141.2L267.8,138.6L269.4,141.2Z" fill="#000000"/><path d="M269.7,132.6L271.3,130.0L272.9,132.6Z" fill="#000000"/><path d="M269.1,135.3L270.7,132.7L272.3,135.3Z" fill="#26b426"/><path d="M269.7,137.5L271.3,134.9L272.9,137.5Z" fill="#000000"/><path d="M269.5,140.6L271.1,137.9L272.7,140.6Z" fill="#d42232"/><path d="M272.8,132.5L274.4,129.9L276.0,132.5Z" fill="#26b426"/><path d="M272.8,135.1L274.4,132.4L276.0,135.1Z" fill="#000000"/><path d="M272.7,137.1L274.3,134.4L275.9,137.1Z" fill="#000000"/><path d="M272.3,139.8L273.9,137.1L275.5,139.8Z" fill="#000000"/><path d="M275.6,130.8L277.2,128.1L278.8,130.8Z" fill="#26b426"/><path d="M276.0,134.1L277.6,131.4L279.2,134.1Z" fill="#26b426"/><path d="M275.5,136.6L277.1,133.9L278.7,136.6Z" fill="#d42232"/><path d="M275.6,139.5L277.2,136.8L278.8,139.5Z" fill="#000000"/><path d="M278.8,131.2L280.4,128.6L282.0,131.2Z" fill="#000000"/><path d="M278.6,133.8L280.2,131.2L281.8,133.8Z" fill="#26b426"/><path d="M278.7,135.9L280.3,133.2L281.9,135.9Z" fill="#26b426"/><path d="M282.3,129.5L283.9,126.9L285.5,129.5Z" fill="#000000"/><path d="M282.1,132.6L283.7,130.0L285.3,132.6Z" fill="#d42232"/><path d="M282.4,134.7L284.0,132.1L285.6,134.7Z" fill="#000000"/><path d="M282.2,137.3L283.8,134.7L285.4,137.3Z" fill="#26b426"/><path d="M285.2,129.7L286.8,127.0L288.4,129.7Z" fill="#26b426"/><path d="M284.9,134.4L286.5,131.7L288.1,134.4Z" fill="#000000"/><path d="M285.2,137.6L286.8,135.0L288.4,137.6Z" fill="#26b426"/><path d="M237.1,150.8L238.7,148.1L240.3,150.8Z" fill="#000000"/><path d="M237.4,156.6L239.0,153.9L240.6,156.6Z" fill="#26b426"/><path d="M240.9,152.8L242.5,150.2L244.1,152.8Z" fill="#26b426"/><path d="M240.5,155.3L242.1,152.7L243.7,155.3Z" fill="#000000"/><path d="M243.9,149.9L245.5,147.2L247.1,149.9Z" fill="#d42232"/><path d="M243.8,154.9L245.4,152.2L247.0,154.9Z" fill="#26b426"/><path d="M246.8,148.9L248.4,146.2L250.0,148.9Z" fill="#26b426"/><path d="M246.8,151.3L248.4,148.6L250.0,151.3Z" fill="#26b426"/><path d="M247.0,153.9L248.6,151.3L250.2,153.9Z" fill="#3ae0ea"/><path d="M250.0,148.1L251.6,145.4L253.2,148.1Z" fill="#26b426"/><path d="M250.1,150.4L251.7,147.8L253.3,150.4Z" fill="#26b426"/><path d="M249.9,153.5L251.5,150.9L253.1,153.5Z" fill="#26b426"/><path d="M253.0,146.9L254.6,144.2L256.2,146.9Z" fill="#26b426"/><path d="M253.6,150.2L255.2,147.5L256.8,150.2Z" fill="#000000"/><path d="M253.2,151.8L254.8,149.2L256.4,151.8Z" fill="#26b426"/><path d="M256.2,146.4L257.8,143.7L259.4,146.4Z" fill="#26b426"/><path d="M256.7,148.6L258.3,145.9L259.9,148.6Z" fill="#26b426"/><path d="M256.9,151.4L258.5,148.8L260.1,151.4Z" fill="#26b426"/><path d="M259.6,145.7L261.2,143.0L262.8,145.7Z" fill="#26b426"/><path d="M259.9,148.7L261.5,146.1L263.1,148.7Z" fill="#26b426"/><path d="M259.8,150.2L261.4,147.5L263.0,150.2Z" fill="#26b426"/><path d="M262.7,145.1L264.3,142.5L265.9,145.1Z" fill="#26b426"/><path d="M262.6,147.7L264.2,145.0L265.8,147.7Z" fill="#26b426"/><path d="M262.7,149.4L264.3,146.8L265.9,149.4Z" fill="#26b426"/><path d="M266.0,144.5L267.6,141.9L269.2,144.5Z" fill="#26b426"/><path d="M266.3,146.3L267.9,143.7L269.5,146.3Z" fill="#26b426"/><path d="M266.5,149.0L268.1,146.4L269.7,149.0Z" fill="#26b426"/><path d="M269.6,143.4L271.2,140.7L272.8,143.4Z" fill="#000000"/><path d="M269.4,148.5L271.0,145.8L272.6,148.5Z" fill="#000000"/><path d="M272.4,143.0L274.0,140.3L275.6,143.0Z" fill="#26b426"/><path d="M272.1,145.1L273.7,142.4L275.3,145.1Z" fill="#26b426"/><path d="M272.4,147.7L274.0,145.1L275.6,147.7Z" fill="#26b426"/><path d="M275.7,141.7L277.3,139.0L278.9,141.7Z" fill="#26b426"/><path d="M275.6,144.5L277.2,141.9L278.8,144.5Z" fill="#26b426"/><path d="M275.9,147.2L277.5,144.5L279.1,147.2Z" fill="#26b426"/><path d="M278.7,141.2L280.3,138.5L281.9,141.2Z" fill="#26b426"/><path d="M278.6,144.0L280.2,141.4L281.8,144.0Z" fill="#000000"/><path d="M279.1,146.0L280.7,143.3L282.3,146.0Z" fill="#000000"/><path d="M281.9,142.7L283.5,140.1L285.1,142.7Z" fill="#000000"/><path d="M281.9,145.6L283.5,142.9L285.1,145.6Z" fill="#26b426"/><path d="M284.8,140.0L286.4,137.3L288.0,140.0Z" fill="#26b426"/><path d="M285.3,145.1L286.9,142.4L288.5,145.1Z" fill="#26b426"/><path d="M237.5,163.9L239.1,161.2L240.7,163.9Z" fill="#d42232"/><path d="M237.1,169.1L238.7,166.5L240.3,169.1Z" fill="#d42232"/><path d="M237.0,171.2L238.6,168.5L240.2,171.2Z" fill="#d42232"/><path d="M237.5,174.2L239.1,171.5L240.7,174.2Z" fill="#d42232"/><path d="M237.8,177.1L239.4,174.5L241.0,177.1Z" fill="#000000"/><path d="M240.4,163.7L242.0,161.0L243.6,163.7Z" fill="#d42232"/><path d="M240.5,165.5L242.1,162.9L243.7,165.5Z" fill="#d42232"/><path d="M240.5,169.0L242.1,166.3L243.7,169.0Z" fill="#3ae0ea"/><path d="M241.0,171.5L242.6,168.8L244.2,171.5Z" fill="#d42232"/><path d="M240.5,173.5L242.1,170.8L243.7,173.5Z" fill="#d42232"/><path d="M240.8,176.5L242.4,173.8L244.0,176.5Z" fill="#d42232"/><path d="M244.0,163.2L245.6,160.5L247.2,163.2Z" fill="#d42232"/><path d="M243.8,165.1L245.4,162.5L247.0,165.1Z" fill="#d42232"/><path d="M243.4,168.4L245.0,165.7L246.6,168.4Z" fill="#000000"/><path d="M243.6,170.8L245.2,168.1L246.8,170.8Z" fill="#d42232"/><path d="M244.2,173.3L245.8,170.6L247.4,173.3Z" fill="#d42232"/><path d="M243.8,175.7L245.4,173.0L247.0,175.7Z" fill="#d42232"/><path d="M246.8,162.0L248.4,159.4L250.0,162.0Z" fill="#d42232"/><path d="M247.3,165.1L248.9,162.4L250.5,165.1Z" fill="#d42232"/><path d="M246.7,166.7L248.3,164.1L249.9,166.7Z" fill="#d42232"/><path d="M247.2,170.1L248.8,167.4L250.4,170.1Z" fill="#d42232"/><path d="M246.7,173.1L248.3,170.4L249.9,173.1Z" fill="#d42232"/><path d="M246.6,175.0L248.2,172.3L249.8,175.0Z" fill="#3ae0ea"/><path d="M250.5,161.5L252.1,158.9L253.7,161.5Z" fill="#d42232"/><path d="M250.4,164.6L252.0,162.0L253.6,164.6Z" fill="#d42232"/><path d="M250.0,169.6L251.6,166.9L253.2,169.6Z" fill="#d42232"/><path d="M253.4,160.8L255.0,158.1L256.6,160.8Z" fill="#d42232"/><path d="M253.5,163.7L255.1,161.0L256.7,163.7Z" fill="#3ae0ea"/><path d="M253.4,165.7L255.0,163.1L256.6,165.7Z" fill="#d42232"/><path d="M253.5,168.5L255.1,165.9L256.7,168.5Z" fill="#d42232"/><path d="M253.4,171.8L255.0,169.2L256.6,171.8Z" fill="#d42232"/><path d="M253.7,173.6L255.3,171.0L256.9,173.6Z" fill="#d42232"/><path d="M256.6,160.8L258.2,158.2L259.8,160.8Z" fill="#d42232"/><path d="M256.6,162.8L258.2,160.1L259.8,162.8Z" fill="#d42232"/><path d="M256.3,165.3L257.9,162.7L259.5,165.3Z" fill="#d42232"/><path d="M256.8,167.9L258.4,165.2L260.0,167.9Z" fill="#d42232"/><path d="M256.8,171.0L258.4,168.3L260.0,171.0Z" fill="#d42232"/><path d="M256.4,172.8L258.0,170.2L259.6,172.8Z" fill="#d42232"/><path d="M259.6,159.6L261.2,156.9L262.8,159.6Z" fill="#d42232"/><path d="M259.5,161.8L261.1,159.2L262.7,161.8Z" fill="#d42232"/><path d="M259.5,164.7L261.1,162.1L262.7,164.7Z" fill="#d42232"/><path d="M259.7,169.6L261.3,167.0L262.9,169.6Z" fill="#d42232"/><path d="M260.0,172.1L261.6,169.4L263.2,172.1Z" fill="#d42232"/><path d="M263.1,159.1L264.7,156.5L266.3,159.1Z" fill="#d42232"/><path d="M262.6,161.3L264.2,158.6L265.8,161.3Z" fill="#d42232"/><path d="M263.1,164.8L264.7,162.1L266.3,164.8Z" fill="#d42232"/><path d="M262.7,167.0L264.3,164.4L265.9,167.0Z" fill="#d42232"/><path d="M262.6,169.8L264.2,167.1L265.8,169.8Z" fill="#d42232"/><path d="M262.8,172.4L264.4,169.7L266.0,172.4Z" fill="#d42232"/><path d="M266.3,158.1L267.9,155.4L269.5,158.1Z" fill="#d42232"/><path d="M266.0,161.3L267.6,158.7L269.2,161.3Z" fill="#d42232"/><path d="M266.4,166.3L268.0,163.7L269.6,166.3Z" fill="#d42232"/><path d="M266.1,168.3L267.7,165.7L269.3,168.3Z" fill="#d42232"/><path d="M269.2,158.3L270.8,155.6L272.4,158.3Z" fill="#d42232"/><path d="M269.1,159.8L270.7,157.1L272.3,159.8Z" fill="#d42232"/><path d="M269.5,162.8L271.1,160.2L272.7,162.8Z" fill="#d42232"/><path d="M269.1,165.7L270.7,163.1L272.3,165.7Z" fill="#d42232"/><path d="M269.3,168.6L270.9,165.9L272.5,168.6Z" fill="#3ae0ea"/><path d="M272.3,156.7L273.9,154.0L275.5,156.7Z" fill="#d42232"/><path d="M272.5,159.7L274.1,157.0L275.7,159.7Z" fill="#d42232"/><path d="M272.7,162.4L274.3,159.7L275.9,162.4Z" fill="#d42232"/><path d="M272.1,170.0L273.7,167.4L275.3,170.0Z" fill="#d42232"/><path d="M275.7,156.1L277.3,153.5L278.9,156.1Z" fill="#000000"/><path d="M275.4,158.9L277.0,156.3L278.6,158.9Z" fill="#d42232"/><path d="M276.0,166.9L277.6,164.2L279.2,166.9Z" fill="#d42232"/><path d="M275.4,170.0L277.0,167.4L278.6,170.0Z" fill="#d42232"/><path d="M278.9,156.5L280.5,153.8L282.1,156.5Z" fill="#d42232"/><path d="M279.2,158.9L280.8,156.2L282.4,158.9Z" fill="#d42232"/><path d="M278.8,161.6L280.4,158.9L282.0,161.6Z" fill="#d42232"/><path d="M278.9,164.2L280.5,161.5L282.1,164.2Z" fill="#3ae0ea"/><path d="M278.9,166.1L280.5,163.4L282.1,166.1Z" fill="#d42232"/><path d="M279.1,168.6L280.7,166.0L282.3,168.6Z" fill="#d42232"/><path d="M282.0,158.5L283.6,155.8L285.2,158.5Z" fill="#d42232"/><path d="M281.7,160.6L283.3,157.9L284.9,160.6Z" fill="#d42232"/><path d="M281.9,162.9L283.5,160.3L285.1,162.9Z" fill="#3ae0ea"/><path d="M282.1,165.7L283.7,163.0L285.3,165.7Z" fill="#d42232"/><path d="M282.0,168.3L283.6,165.6L285.2,168.3Z" fill="#d42232"/><path d="M284.9,154.4L286.5,151.8L288.1,154.4Z" fill="#d42232"/><path d="M284.9,156.8L286.5,154.1L288.1,156.8Z" fill="#3ae0ea"/><path d="M285.5,160.5L287.1,157.8L288.7,160.5Z" fill="#d42232"/><path d="M284.9,165.2L286.5,162.6L288.1,165.2Z" fill="#d42232"/><path d="M285.6,167.7L287.2,165.1L288.8,167.7Z" fill="#d42232"/><path d="M288.1,153.6L289.7,151.0L291.3,153.6Z" fill="#d42232"/><path d="M288.2,159.5L289.8,156.9L291.4,159.5Z" fill="#d42232"/><path d="M288.2,161.8L289.8,159.2L291.4,161.8Z" fill="#d42232"/><path d="M288.7,165.0L290.3,162.4L291.9,165.0Z" fill="#d42232"/><path d="M288.3,167.5L289.9,164.9L291.5,167.5Z" fill="#d42232"/><path d="M221.4,171.3L223.0,168.6L224.6,171.3Z" fill="#d42232"/><path d="M221.7,174.0L223.3,171.4L224.9,174.0Z" fill="#d42232"/><path d="M221.7,176.6L223.3,174.0L224.9,176.6Z" fill="#d42232"/><path d="M224.5,167.1L226.1,164.5L227.7,167.1Z" fill="#000000"/><path d="M224.4,169.9L226.0,167.2L227.6,169.9Z" fill="#d42232"/><path d="M225.1,172.6L226.7,169.9L228.3,172.6Z" fill="#d42232"/><path d="M227.5,170.0L229.1,167.3L230.7,170.0Z" fill="#3ae0ea"/><path d="M227.9,171.4L229.5,168.7L231.1,171.4Z" fill="#d42232"/><path d="M230.7,166.0L232.3,163.4L233.9,166.0Z" fill="#3ae0ea"/><path d="M231.1,168.4L232.7,165.8L234.3,168.4Z" fill="#d42232"/><path d="M230.8,170.8L232.4,168.1L234.0,170.8Z" fill="#d42232"/><path d="M234.2,165.2L235.8,162.5L237.4,165.2Z" fill="#3ae0ea"/><path d="M233.9,167.9L235.5,165.3L237.1,167.9Z" fill="#d42232"/><path d="M237.6,180.1L239.2,177.4L240.8,180.1Z" fill="#3ae0ea"/><path d="M247.1,177.0L248.7,174.4L250.3,177.0Z" fill="#3ae0ea"/><path d="M250.3,169.6L251.9,166.9L253.5,169.6Z" fill="#3ae0ea"/><path d="M253.6,173.3L255.2,170.7L256.8,173.3Z" fill="#26b426"/><path d="M253.4,176.5L255.0,173.9L256.6,176.5Z" fill="#3ae0ea"/><path d="M253.1,182.0L254.7,179.3L256.3,182.0Z" fill="#3ae0ea"/><path d="M256.9,170.4L258.5,167.8L260.1,170.4Z" fill="#26b426"/><path d="M256.7,172.5L258.3,169.8L259.9,172.5Z" fill="#d42232"/><path d="M259.8,169.5L261.4,166.9L263.0,169.5Z" fill="#3ae0ea"/><path d="M260.1,174.9L261.7,172.2L263.3,174.9Z" fill="#3ae0ea"/><path d="M262.7,165.8L264.3,163.2L265.9,165.8Z" fill="#3ae0ea"/><path d="M262.8,176.7L264.4,174.0L266.0,176.7Z" fill="#26b426"/><path d="M266.2,166.0L267.8,163.3L269.4,166.0Z" fill="#3ae0ea"/><path d="M265.9,178.0L267.5,175.3L269.1,178.0Z" fill="#3ae0ea"/><path d="M269.3,167.9L270.9,165.2L272.5,167.9Z" fill="#3ae0ea"/><path d="M269.1,177.4L270.7,174.7L272.3,177.4Z" fill="#3ae0ea"/><path d="M272.9,168.8L274.5,166.2L276.1,168.8Z" fill="#d42232"/><path d="M272.7,172.4L274.3,169.7L275.9,172.4Z" fill="#3ae0ea"/><path d="M272.5,174.3L274.1,171.7L275.7,174.3Z" fill="#3ae0ea"/><path d="M272.2,176.8L273.8,174.1L275.4,176.8Z" fill="#3ae0ea"/><path d="M275.5,163.1L277.1,160.5L278.7,163.1Z" fill="#3ae0ea"/><path d="M275.5,166.1L277.1,163.4L278.7,166.1Z" fill="#26b426"/><path d="M275.8,176.7L277.4,174.1L279.0,176.7Z" fill="#3ae0ea"/><path d="M279.2,162.2L280.8,159.6L282.4,162.2Z" fill="#3ae0ea"/><path d="M278.6,170.0L280.2,167.3L281.8,170.0Z" fill="#26b426"/><path d="M278.9,173.0L280.5,170.4L282.1,173.0Z" fill="#3ae0ea"/><path d="M282.2,164.1L283.8,161.5L285.4,164.1Z" fill="#3ae0ea"/><path d="M281.8,172.3L283.4,169.7L285.0,172.3Z" fill="#3ae0ea"/><path d="M281.8,174.6L283.4,172.0L285.0,174.6Z" fill="#3ae0ea"/><path d="M288.7,166.3L290.3,163.6L291.9,166.3Z" fill="#26b426"/><path d="M288.6,171.5L290.2,168.8L291.8,171.5Z" fill="#3ae0ea"/><path d="M404.3,205.3L405.9,202.7L407.5,205.3Z" fill="#000000"/><path d="M407.4,205.0L409.0,202.3L410.6,205.0Z" fill="#26b426"/><path d="M423.4,200.8L425.0,198.2L426.6,200.8Z" fill="#26b426"/><path d="M429.7,199.3L431.3,196.7L432.9,199.3Z" fill="#26b426"/><path d="M439.2,197.5L440.8,194.8L442.4,197.5Z" fill="#26b426"/><path d="M442.3,196.7L443.9,194.0L445.5,196.7Z" fill="#26b426"/><path d="M445.9,196.7L447.5,194.0L449.1,196.7Z" fill="#26b426"/><path d="M452.2,194.0L453.8,191.3L455.4,194.0Z" fill="#26b426"/><path d="M458.5,192.8L460.1,190.1L461.7,192.8Z" fill="#26b426"/><path d="M464.7,191.5L466.3,188.8L467.9,191.5Z" fill="#26b426"/><path d="M455.4,193.6L457.0,190.9L458.6,193.6Z" fill="#000000"/><path d="M467.9,191.2L469.5,188.5L471.1,191.2Z" fill="#000000"/><path d="M416.5,221.1L418.1,218.4L419.7,221.1Z" fill="#3ae0ea"/><path d="M420.0,223.3L421.6,220.7L423.2,223.3Z" fill="#26b426"/><path d="M426.6,219.5L428.2,216.8L429.8,219.5Z" fill="#d42232"/><path d="M429.7,218.7L431.3,216.0L432.9,218.7Z" fill="#3ae0ea"/><path d="M432.9,219.2L434.5,216.5L436.1,219.2Z" fill="#d42232"/><path d="M439.2,217.1L440.8,214.4L442.4,217.1Z" fill="#d42232"/><path d="M442.3,216.7L443.9,214.0L445.5,216.7Z" fill="#d42232"/><path d="M445.9,216.0L447.5,213.3L449.1,216.0Z" fill="#3ae0ea"/><path d="M448.6,215.6L450.2,212.9L451.8,215.6Z" fill="#3ae0ea"/><path d="M451.7,214.8L453.3,212.1L454.9,214.8Z" fill="#d42232"/><path d="M458.5,213.5L460.1,210.8L461.7,213.5Z" fill="#d42232"/><path d="M458.5,216.0L460.1,213.3L461.7,216.0Z" fill="#26b426"/><path d="M464.8,212.3L466.4,209.7L468.0,212.3Z" fill="#d42232"/><path d="M470.3,210.8L471.9,208.2L473.5,210.8Z" fill="#d42232"/><path d="M473.4,210.1L475.0,207.4L476.6,210.1Z" fill="#d42232"/><path d="M467.9,205.3L469.5,202.7L471.1,205.3Z" fill="#3ae0ea"/><path d="M471.1,214.0L472.7,211.3L474.3,214.0Z" fill="#26b426"/><path d="M429.7,222.6L431.3,219.9L432.9,222.6Z" fill="#26b426"/><circle cx="415.3" cy="227.7" r="1.3" fill="#26b426"/><circle cx="418.4" cy="228.5" r="1.3" fill="#26b426"/><circle cx="421.6" cy="229.3" r="1.3" fill="#26b426"/><circle cx="412.2" cy="235.6" r="1.3" fill="#26b426"/><circle cx="418.4" cy="232.5" r="1.3" fill="#26b426"/><circle cx="421.6" cy="232.5" r="1.3" fill="#26b426"/><circle cx="431.0" cy="230.1" r="1.3" fill="#26b426"/><circle cx="434.2" cy="227.7" r="1.3" fill="#26b426"/><circle cx="443.6" cy="227.0" r="1.3" fill="#26b426"/><circle cx="443.6" cy="232.5" r="1.3" fill="#26b426"/><circle cx="449.9" cy="230.1" r="1.3" fill="#26b426"/><circle cx="453.0" cy="227.0" r="1.3" fill="#26b426"/><circle cx="453.0" cy="232.0" r="1.3" fill="#26b426"/><circle cx="465.6" cy="225.4" r="1.3" fill="#26b426"/><circle cx="465.6" cy="229.3" r="1.3" fill="#26b426"/><circle cx="472.0" cy="224.0" r="1.3" fill="#26b426"/><circle cx="477.0" cy="227.5" r="1.3" fill="#26b426"/><circle cx="405.9" cy="235.6" r="1.3" fill="#26b426"/><circle cx="400.0" cy="234.8" r="1.3" fill="#26b426"/><circle cx="405.9" cy="234.6" r="1.3" fill="#26b426"/><circle cx="418.4" cy="233.8" r="1.3" fill="#26b426"/><circle cx="427.9" cy="230.6" r="1.3" fill="#26b426"/><circle cx="434.2" cy="233.8" r="1.3" fill="#26b426"/><circle cx="440.5" cy="230.6" r="1.3" fill="#26b426"/><circle cx="443.6" cy="228.3" r="1.3" fill="#26b426"/><circle cx="449.9" cy="229.1" r="1.3" fill="#26b426"/><circle cx="453.0" cy="226.7" r="1.3" fill="#26b426"/><circle cx="453.0" cy="230.6" r="1.3" fill="#26b426"/><circle cx="457.0" cy="223.6" r="1.3" fill="#26b426"/><circle cx="465.6" cy="225.9" r="1.3" fill="#26b426"/><circle cx="469.5" cy="224.4" r="1.3" fill="#26b426"/><circle cx="475.0" cy="228.3" r="1.3" fill="#26b426"/><circle cx="431.0" cy="244.0" r="1.3" fill="#26b426"/><circle cx="443.6" cy="240.1" r="1.3" fill="#26b426"/><circle cx="460.1" cy="241.7" r="1.3" fill="#26b426"/><circle cx="444.4" cy="232.5" r="1.3" fill="#3ae0ea"/><circle cx="457.0" cy="231.7" r="1.3" fill="#3ae0ea"/><circle cx="460.1" cy="230.9" r="1.3" fill="#3ae0ea"/><circle cx="467.2" cy="235.6" r="1.3" fill="#3ae0ea"/><circle cx="440.5" cy="233.8" r="1.3" fill="#3ae0ea"/><circle cx="466.4" cy="234.6" r="1.3" fill="#3ae0ea"/><circle cx="405.1" cy="244.8" r="1.3" fill="#3ae0ea"/><circle cx="409.0" cy="247.2" r="1.3" fill="#3ae0ea"/><circle cx="418.4" cy="242.4" r="1.3" fill="#3ae0ea"/><circle cx="421.6" cy="245.6" r="1.3" fill="#3ae0ea"/><circle cx="424.7" cy="252.7" r="1.3" fill="#3ae0ea"/><circle cx="440.5" cy="242.4" r="1.3" fill="#3ae0ea"/><circle cx="447.5" cy="242.4" r="1.3" fill="#3ae0ea"/><circle cx="450.7" cy="245.6" r="1.3" fill="#3ae0ea"/><circle cx="446.7" cy="255.8" r="1.3" fill="#3ae0ea"/><circle cx="463.3" cy="250.3" r="1.3" fill="#3ae0ea"/><circle cx="469.5" cy="242.4" r="1.3" fill="#3ae0ea"/><circle cx="472.7" cy="244.8" r="1.3" fill="#3ae0ea"/><circle cx="431.0" cy="242.0" r="1.3" fill="#3ae0ea"/><circle cx="415.3" cy="237.0" r="1.3" fill="#d42232"/><circle cx="421.6" cy="237.0" r="1.3" fill="#d42232"/><circle cx="431.0" cy="235.4" r="1.3" fill="#d42232"/><circle cx="447.5" cy="233.0" r="1.3" fill="#d42232"/><circle cx="427.9" cy="247.2" r="1.3" fill="#d42232"/><circle cx="431.0" cy="251.9" r="1.3" fill="#d42232"/><circle cx="443.6" cy="251.1" r="1.3" fill="#d42232"/><circle cx="434.2" cy="241.7" r="1.3" fill="#d42232"/><circle cx="463.3" cy="240.1" r="1.3" fill="#d42232"/><circle cx="415.3" cy="237.2" r="1.3" fill="#d42232"/><circle cx="421.6" cy="236.9" r="1.3" fill="#d42232"/><circle cx="443.6" cy="236.4" r="1.3" fill="#d42232"/><circle cx="449.9" cy="236.4" r="1.3" fill="#d42232"/><circle cx="460.1" cy="234.8" r="1.3" fill="#d42232"/><circle cx="453.0" cy="242.1" r="1.3" fill="#000000"/><path d="M480.6,193.0L482.2,190.3L483.8,193.0Z" fill="#26b426"/><path d="M470.4,210.2L472.0,207.6L473.6,210.2Z" fill="#d42232"/><path d="M473.4,209.5L475.0,206.8L476.6,209.5Z" fill="#d42232"/><path d="M480.6,208.7L482.2,206.0L483.8,208.7Z" fill="#d42232"/><path d="M493.2,206.0L494.8,203.3L496.4,206.0Z" fill="#d42232"/><path d="M499.5,204.8L501.1,202.1L502.7,204.8Z" fill="#d42232"/><path d="M496.3,200.1L497.9,197.4L499.5,200.1Z" fill="#d42232"/><path d="M499.5,199.8L501.1,197.1L502.7,199.8Z" fill="#d42232"/><path d="M502.6,197.7L504.2,195.0L505.8,197.7Z" fill="#d42232"/><path d="M505.8,196.6L507.4,193.9L509.0,196.6Z" fill="#d42232"/><path d="M508.9,196.8L510.5,194.2L512.1,196.8Z" fill="#d42232"/><path d="M516.0,200.8L517.6,198.2L519.2,200.8Z" fill="#d42232"/><path d="M518.4,193.8L520.0,191.1L521.6,193.8Z" fill="#d42232"/><path d="M521.5,193.5L523.1,190.8L524.7,193.5Z" fill="#d42232"/><path d="M528.6,197.7L530.2,195.0L531.8,197.7Z" fill="#d42232"/><path d="M531.7,196.8L533.3,194.2L534.9,196.8Z" fill="#d42232"/><path d="M534.9,196.8L536.5,194.2L538.1,196.8Z" fill="#d42232"/><path d="M534.9,189.8L536.5,187.1L538.1,189.8Z" fill="#d42232"/><path d="M547.4,189.8L549.0,187.1L550.6,189.8Z" fill="#d42232"/><path d="M483.8,201.6L485.4,198.9L487.0,201.6Z" fill="#3ae0ea"/><path d="M483.8,207.1L485.4,204.4L487.0,207.1Z" fill="#3ae0ea"/><path d="M480.6,211.1L482.2,208.4L483.8,211.1Z" fill="#3ae0ea"/><path d="M503.4,204.0L505.0,201.3L506.6,204.0Z" fill="#3ae0ea"/><path d="M506.6,204.0L508.2,201.3L509.8,204.0Z" fill="#3ae0ea"/><path d="M509.7,203.2L511.3,200.5L512.9,203.2Z" fill="#3ae0ea"/><path d="M516.0,196.8L517.6,194.2L519.2,196.8Z" fill="#3ae0ea"/><path d="M522.3,188.2L523.9,185.6L525.5,188.2Z" fill="#3ae0ea"/><path d="M524.6,188.2L526.2,185.6L527.8,188.2Z" fill="#3ae0ea"/><path d="M527.0,191.3L528.6,188.7L530.2,191.3Z" fill="#3ae0ea"/><path d="M529.4,191.3L531.0,188.7L532.6,191.3Z" fill="#3ae0ea"/><path d="M531.7,187.5L533.3,184.8L534.9,187.5Z" fill="#3ae0ea"/><path d="M534.9,185.1L536.5,182.4L538.1,185.1Z" fill="#3ae0ea"/><path d="M538.0,189.1L539.6,186.4L541.2,189.1Z" fill="#3ae0ea"/><path d="M541.9,185.8L543.5,183.2L545.1,185.8Z" fill="#3ae0ea"/><path d="M544.3,188.2L545.9,185.6L547.5,188.2Z" fill="#3ae0ea"/><path d="M547.4,183.6L549.0,180.9L550.6,183.6Z" fill="#3ae0ea"/><path d="M525.4,198.5L527.0,195.8L528.6,198.5Z" fill="#3ae0ea"/><path d="M528.6,200.8L530.2,198.2L531.8,200.8Z" fill="#3ae0ea"/><path d="M512.1,204.0L513.7,201.3L515.3,204.0Z" fill="#000000"/><path d="M518.4,204.0L520.0,201.3L521.6,204.0Z" fill="#000000"/><path d="M509.7,206.3L511.3,203.7L512.9,206.3Z" fill="#000000"/><path d="M518.4,210.2L520.0,207.5L521.6,210.2Z" fill="#000000"/><circle cx="494.0" cy="208.3" r="1.3" fill="#26b426"/><circle cx="498.0" cy="210.0" r="1.3" fill="#26b426"/><circle cx="501.1" cy="206.8" r="1.3" fill="#26b426"/><circle cx="504.2" cy="208.3" r="1.3" fill="#26b426"/><circle cx="510.5" cy="213.0" r="1.3" fill="#26b426"/><circle cx="513.7" cy="211.4" r="1.3" fill="#26b426"/><circle cx="517.6" cy="205.2" r="1.3" fill="#26b426"/><circle cx="523.9" cy="204.4" r="1.3" fill="#26b426"/><circle cx="528.6" cy="203.6" r="1.3" fill="#26b426"/><circle cx="533.3" cy="201.2" r="1.3" fill="#26b426"/><circle cx="536.5" cy="200.4" r="1.3" fill="#26b426"/><circle cx="541.2" cy="199.7" r="1.3" fill="#26b426"/><circle cx="545.1" cy="198.9" r="1.3" fill="#26b426"/><circle cx="549.0" cy="195.7" r="1.3" fill="#26b426"/><circle cx="534.1" cy="198.9" r="1.3" fill="#26b426"/><circle cx="542.8" cy="192.6" r="1.3" fill="#26b426"/><circle cx="491.7" cy="221.7" r="1.3" fill="#3ae0ea"/><circle cx="517.6" cy="217.7" r="1.3" fill="#3ae0ea"/><circle cx="523.9" cy="219.3" r="1.3" fill="#3ae0ea"/><circle cx="527.0" cy="218.5" r="1.3" fill="#3ae0ea"/><circle cx="533.3" cy="215.4" r="1.3" fill="#3ae0ea"/><circle cx="548.0" cy="217.0" r="1.3" fill="#3ae0ea"/><circle cx="497.9" cy="218.5" r="1.3" fill="#26b426"/><circle cx="501.1" cy="219.3" r="1.3" fill="#26b426"/><circle cx="520.0" cy="219.3" r="1.3" fill="#26b426"/><circle cx="530.2" cy="218.5" r="1.3" fill="#26b426"/><circle cx="536.5" cy="217.7" r="1.3" fill="#26b426"/><circle cx="539.6" cy="219.3" r="1.3" fill="#26b426"/><circle cx="543.5" cy="220.0" r="1.3" fill="#26b426"/><circle cx="545.9" cy="217.7" r="1.3" fill="#26b426"/><circle cx="549.0" cy="216.2" r="1.3" fill="#26b426"/><circle cx="479.1" cy="224.8" r="1.3" fill="#26b426"/><circle cx="473.6" cy="226.4" r="1.3" fill="#26b426"/><circle cx="536.5" cy="224.0" r="1.3" fill="#d42232"/><circle cx="481.7" cy="230.9" r="1.3" fill="#d42232"/><circle cx="488.8" cy="227.6" r="1.3" fill="#d42232"/><circle cx="495.4" cy="229.8" r="1.3" fill="#d42232"/><circle cx="498.2" cy="229.8" r="1.3" fill="#d42232"/><circle cx="501.5" cy="229.2" r="1.3" fill="#d42232"/><circle cx="504.8" cy="224.3" r="1.3" fill="#d42232"/><circle cx="514.1" cy="227.0" r="1.3" fill="#d42232"/><circle cx="517.4" cy="226.5" r="1.3" fill="#d42232"/><circle cx="523.5" cy="225.4" r="1.3" fill="#d42232"/><circle cx="530.0" cy="224.6" r="1.3" fill="#d42232"/><circle cx="532.8" cy="224.3" r="1.3" fill="#d42232"/><circle cx="542.7" cy="220.4" r="1.3" fill="#d42232"/><circle cx="546.0" cy="213.3" r="1.3" fill="#d42232"/><circle cx="546.0" cy="230.9" r="1.3" fill="#d42232"/><circle cx="491.6" cy="237.5" r="1.3" fill="#d42232"/><circle cx="485.5" cy="234.7" r="1.3" fill="#3ae0ea"/><circle cx="487.7" cy="232.0" r="1.3" fill="#3ae0ea"/><circle cx="498.2" cy="225.4" r="1.3" fill="#3ae0ea"/><circle cx="500.9" cy="224.8" r="1.3" fill="#3ae0ea"/><circle cx="507.5" cy="228.7" r="1.3" fill="#3ae0ea"/><circle cx="509.7" cy="228.1" r="1.3" fill="#3ae0ea"/><circle cx="520.2" cy="217.1" r="1.3" fill="#3ae0ea"/><circle cx="524.0" cy="221.0" r="1.3" fill="#3ae0ea"/><circle cx="527.3" cy="219.9" r="1.3" fill="#3ae0ea"/><circle cx="530.0" cy="219.3" r="1.3" fill="#3ae0ea"/><circle cx="532.8" cy="218.2" r="1.3" fill="#3ae0ea"/><circle cx="536.1" cy="218.8" r="1.3" fill="#3ae0ea"/><circle cx="539.4" cy="218.2" r="1.3" fill="#3ae0ea"/><circle cx="546.0" cy="221.5" r="1.3" fill="#3ae0ea"/><circle cx="549.0" cy="221.5" r="1.3" fill="#3ae0ea"/><circle cx="542.7" cy="210.5" r="1.3" fill="#3ae0ea"/><circle cx="536.7" cy="223.7" r="1.3" fill="#3ae0ea"/><circle cx="491.6" cy="222.1" r="1.3" fill="#3ae0ea"/><circle cx="504.2" cy="234.2" r="1.3" fill="#3ae0ea"/><circle cx="507.5" cy="234.2" r="1.3" fill="#3ae0ea"/><circle cx="524.0" cy="234.2" r="1.3" fill="#3ae0ea"/><circle cx="517.4" cy="219.9" r="1.3" fill="#26b426"/><circle cx="521.3" cy="221.0" r="1.3" fill="#26b426"/><circle cx="533.4" cy="215.5" r="1.3" fill="#26b426"/><circle cx="514.1" cy="224.8" r="1.3" fill="#26b426"/><circle cx="497.6" cy="218.8" r="1.3" fill="#26b426"/><circle cx="501.5" cy="219.3" r="1.3" fill="#26b426"/><circle cx="485.5" cy="219.9" r="1.3" fill="#26b426"/><circle cx="514.1" cy="234.7" r="1.3" fill="#26b426"/><circle cx="495.4" cy="236.9" r="1.3" fill="#26b426"/><circle cx="498.2" cy="236.9" r="1.3" fill="#26b426"/><circle cx="530.0" cy="224.6" r="1.3" fill="#000000"/><circle cx="485.5" cy="231.4" r="1.3" fill="#000000"/><circle cx="545.9" cy="231.1" r="1.3" fill="#d42232"/><circle cx="479.1" cy="224.8" r="1.3" fill="#26b426"/><circle cx="475.9" cy="228.6" r="1.3" fill="#26b426"/><circle cx="479.1" cy="228.6" r="1.3" fill="#26b426"/><circle cx="482.2" cy="231.0" r="1.3" fill="#26b426"/><circle cx="495.3" cy="228.3" r="1.3" fill="#26b426"/><circle cx="501.1" cy="226.7" r="1.3" fill="#26b426"/><circle cx="514.1" cy="224.4" r="1.3" fill="#26b426"/><circle cx="514.1" cy="234.6" r="1.3" fill="#26b426"/><circle cx="495.6" cy="237.7" r="1.3" fill="#26b426"/><circle cx="498.4" cy="236.9" r="1.3" fill="#26b426"/><circle cx="498.4" cy="240.6" r="1.3" fill="#26b426"/><circle cx="523.9" cy="240.1" r="1.3" fill="#26b426"/><circle cx="482.2" cy="237.7" r="1.3" fill="#3ae0ea"/><circle cx="485.4" cy="234.6" r="1.3" fill="#3ae0ea"/><circle cx="494.8" cy="234.6" r="1.3" fill="#3ae0ea"/><circle cx="504.2" cy="233.8" r="1.3" fill="#3ae0ea"/><circle cx="507.4" cy="233.8" r="1.3" fill="#3ae0ea"/><circle cx="511.0" cy="236.9" r="1.3" fill="#3ae0ea"/><circle cx="523.9" cy="234.3" r="1.3" fill="#3ae0ea"/><circle cx="472.8" cy="244.8" r="1.3" fill="#3ae0ea"/><circle cx="485.4" cy="244.8" r="1.3" fill="#3ae0ea"/><circle cx="504.2" cy="250.0" r="1.3" fill="#3ae0ea"/><circle cx="479.1" cy="240.6" r="1.3" fill="#d42232"/><circle cx="489.0" cy="241.2" r="1.3" fill="#d42232"/><circle cx="488.5" cy="227.0" r="1.3" fill="#d42232"/><circle cx="501.1" cy="246.8" r="1.3" fill="#d42232"/><circle cx="523.9" cy="242.4" r="1.3" fill="#d42232"/><circle cx="492.1" cy="237.4" r="1.3" fill="#d42232"/><circle cx="495.3" cy="246.8" r="1.3" fill="#d42232"/><path d="M493.7,180.2L495.3,177.5L496.9,180.2Z" fill="#000000"/><path d="M512.9,145.2L514.5,142.6L516.1,145.2Z" fill="#26b426"/><path d="M516.0,144.3L517.6,141.7L519.2,144.3Z" fill="#26b426"/><path d="M522.3,142.8L523.9,140.1L525.5,142.8Z" fill="#26b426"/><path d="M528.6,139.7L530.2,137.0L531.8,139.7Z" fill="#26b426"/><path d="M534.9,139.2L536.5,136.6L538.1,139.2Z" fill="#26b426"/><path d="M528.6,143.2L530.2,140.6L531.8,143.2Z" fill="#26b426"/><path d="M531.7,144.1L533.3,141.4L534.9,144.1Z" fill="#26b426"/><path d="M534.9,145.8L536.5,143.2L538.1,145.8Z" fill="#26b426"/><path d="M528.6,147.5L530.2,144.8L531.8,147.5Z" fill="#26b426"/><path d="M541.2,144.8L542.8,142.1L544.4,144.8Z" fill="#26b426"/><path d="M503.1,154.8L504.7,152.1L506.3,154.8Z" fill="#26b426"/><path d="M547.4,156.2L549.0,153.6L550.6,156.2Z" fill="#26b426"/><path d="M516.0,165.2L517.6,162.6L519.2,165.2Z" fill="#26b426"/><path d="M522.3,165.2L523.9,162.6L525.5,165.2Z" fill="#26b426"/><path d="M522.3,168.3L523.9,165.7L525.5,168.3Z" fill="#26b426"/><path d="M522.3,170.8L523.9,168.1L525.5,170.8Z" fill="#26b426"/><path d="M509.7,168.3L511.3,165.7L512.9,168.3Z" fill="#26b426"/><path d="M512.9,171.6L514.5,168.9L516.1,171.6Z" fill="#26b426"/><path d="M506.2,173.6L507.8,170.9L509.4,173.6Z" fill="#26b426"/><path d="M499.5,176.8L501.1,174.1L502.7,176.8Z" fill="#26b426"/><path d="M528.6,162.1L530.2,159.4L531.8,162.1Z" fill="#26b426"/><path d="M531.7,160.6L533.3,157.9L534.9,160.6Z" fill="#26b426"/><path d="M534.9,159.8L536.5,157.1L538.1,159.8Z" fill="#26b426"/><path d="M531.7,169.2L533.3,166.5L534.9,169.2Z" fill="#26b426"/><path d="M528.6,169.2L530.2,166.5L531.8,169.2Z" fill="#26b426"/><path d="M544.3,162.8L545.9,160.2L547.5,162.8Z" fill="#26b426"/><path d="M547.4,162.1L549.0,159.4L550.6,162.1Z" fill="#26b426"/><path d="M544.3,167.7L545.9,165.0L547.5,167.7Z" fill="#26b426"/><path d="M547.4,170.0L549.0,167.3L550.6,170.0Z" fill="#26b426"/><path d="M549.4,160.2L551.0,157.5L552.6,160.2Z" fill="#26b426"/><path d="M522.3,149.6L523.9,146.9L525.5,149.6Z" fill="#000000"/><path d="M544.3,157.0L545.9,154.3L547.5,157.0Z" fill="#000000"/><path d="M528.6,166.1L530.2,163.4L531.8,166.1Z" fill="#000000"/><path d="M534.9,165.2L536.5,162.6L538.1,165.2Z" fill="#3ae0ea"/><path d="M538.0,167.6L539.6,164.9L541.2,167.6Z" fill="#3ae0ea"/><path d="M531.7,184.8L533.3,182.2L534.9,184.8Z" fill="#3ae0ea"/><path d="M541.2,183.3L542.8,180.7L544.4,183.3Z" fill="#3ae0ea"/><path d="M544.3,183.1L545.9,180.4L547.5,183.1Z" fill="#3ae0ea"/><path d="M547.4,182.6L549.0,179.9L550.6,182.6Z" fill="#3ae0ea"/><path d="M613.8,112.5L615.4,109.8L617.0,112.5Z" fill="#26b426"/><path d="M640.2,110.0L641.8,107.3L643.4,110.0Z" fill="#26b426"/><path d="M655.3,131.3L656.9,128.7L658.5,131.3Z" fill="#26b426"/><path d="M649.0,136.3L650.6,133.7L652.2,136.3Z" fill="#26b426"/><path d="M579.1,126.8L580.7,124.1L582.3,126.8Z" fill="#26b426"/><path d="M595.7,129.3L597.3,126.7L598.9,129.3Z" fill="#26b426"/><path d="M601.3,127.6L602.9,124.9L604.5,127.6Z" fill="#26b426"/><path d="M605.0,131.8L606.6,129.2L608.2,131.8Z" fill="#26b426"/><path d="M550.5,128.3L552.1,125.7L553.7,128.3Z" fill="#26b426"/><path d="M582.4,132.6L584.0,129.9L585.6,132.6Z" fill="#26b426"/><path d="M579.9,136.8L581.5,134.2L583.1,136.8Z" fill="#26b426"/><path d="M583.2,138.3L584.8,135.7L586.4,138.3Z" fill="#26b426"/><path d="M560.5,138.8L562.1,136.2L563.7,138.8Z" fill="#26b426"/><path d="M563.5,138.8L565.1,136.2L566.7,138.8Z" fill="#26b426"/><path d="M543.9,135.1L545.5,132.4L547.1,135.1Z" fill="#26b426"/><path d="M550.5,141.3L552.1,138.7L553.7,141.3Z" fill="#26b426"/><path d="M540.9,145.2L542.5,142.5L544.1,145.2Z" fill="#26b426"/><path d="M604.8,131.8L606.4,129.2L608.0,131.8Z" fill="#26b426"/><path d="M655.7,131.2L657.3,128.5L658.9,131.2Z" fill="#26b426"/><path d="M649.3,136.1L650.9,133.4L652.5,136.1Z" fill="#26b426"/><path d="M614.7,154.5L616.3,151.8L617.9,154.5Z" fill="#26b426"/><path d="M630.2,149.5L631.8,146.8L633.4,149.5Z" fill="#26b426"/><path d="M623.9,113.8L625.5,111.1L627.1,113.8Z" fill="#000000"/><path d="M585.7,123.8L587.3,121.1L588.9,123.8Z" fill="#000000"/><path d="M591.7,123.2L593.3,120.6L594.9,123.2Z" fill="#000000"/><path d="M605.0,126.2L606.6,123.6L608.2,126.2Z" fill="#000000"/><path d="M569.8,136.3L571.4,133.7L573.0,136.3Z" fill="#000000"/><path d="M633.8,170.8L635.4,168.1L637.0,170.8Z" fill="#d42232"/><path d="M627.4,172.5L629.0,169.8L630.6,172.5Z" fill="#d42232"/><path d="M623.9,173.6L625.5,170.9L627.1,173.6Z" fill="#d42232"/><path d="M621.0,168.0L622.6,165.3L624.2,168.0Z" fill="#d42232"/><path d="M617.5,172.2L619.1,169.5L620.7,172.2Z" fill="#d42232"/><path d="M614.7,169.7L616.3,167.0L617.9,169.7Z" fill="#d42232"/><path d="M611.1,164.0L612.7,161.3L614.3,164.0Z" fill="#d42232"/><path d="M608.3,170.0L609.9,167.3L611.5,170.0Z" fill="#d42232"/><path d="M608.0,177.8L609.6,175.2L611.2,177.8Z" fill="#d42232"/><path d="M604.8,179.6L606.4,176.9L608.0,179.6Z" fill="#d42232"/><path d="M598.4,173.8L600.0,171.2L601.6,173.8Z" fill="#d42232"/><path d="M611.1,164.3L612.7,161.7L614.3,164.3Z" fill="#d42232"/><path d="M621.0,167.8L622.6,165.2L624.2,167.8Z" fill="#d42232"/><path d="M630.9,167.6L632.5,164.9L634.1,167.6Z" fill="#3ae0ea"/><path d="M627.4,169.7L629.0,167.0L630.6,169.7Z" fill="#3ae0ea"/><path d="M617.5,165.3L619.1,162.7L620.7,165.3Z" fill="#3ae0ea"/><path d="M614.7,164.0L616.3,161.3L617.9,164.0Z" fill="#3ae0ea"/><path d="M601.2,166.8L602.8,164.2L604.4,166.8Z" fill="#3ae0ea"/><path d="M604.8,172.5L606.4,169.8L608.0,172.5Z" fill="#3ae0ea"/><path d="M601.2,175.2L602.8,172.6L604.4,175.2Z" fill="#3ae0ea"/><path d="M614.0,175.2L615.6,172.6L617.2,175.2Z" fill="#3ae0ea"/><path d="M604.8,186.7L606.4,184.0L608.0,186.7Z" fill="#3ae0ea"/><path d="M630.2,167.8L631.8,165.2L633.4,167.8Z" fill="#3ae0ea"/><path d="M633.8,174.6L635.4,171.9L637.0,174.6Z" fill="#26b426"/><path d="M627.4,176.8L629.0,174.1L630.6,176.8Z" fill="#26b426"/><path d="M627.4,179.2L629.0,176.6L630.6,179.2Z" fill="#26b426"/><path d="M633.8,182.3L635.4,179.7L637.0,182.3Z" fill="#26b426"/><path d="M640.1,172.8L641.7,170.1L643.3,172.8Z" fill="#26b426"/><path d="M617.5,178.8L619.1,176.2L620.7,178.8Z" fill="#26b426"/><path d="M614.7,182.3L616.3,179.7L617.9,182.3Z" fill="#26b426"/><path d="M611.1,181.0L612.7,178.3L614.3,181.0Z" fill="#26b426"/><path d="M601.2,160.2L602.8,157.5L604.4,160.2Z" fill="#26b426"/><path d="M604.8,159.7L606.4,157.0L608.0,159.7Z" fill="#26b426"/><path d="M604.8,165.3L606.4,162.7L608.0,165.3Z" fill="#000000"/><path d="M614.0,179.6L615.6,176.9L617.2,179.6Z" fill="#000000"/><path d="M611.1,160.2L612.7,157.5L614.3,160.2Z" fill="#000000"/><path d="M604.8,165.1L606.4,162.4L608.0,165.1Z" fill="#000000"/><circle cx="596.9" cy="206.4" r="1.3" fill="#d42232"/><circle cx="603.2" cy="204.8" r="1.3" fill="#d42232"/><circle cx="581.2" cy="208.0" r="1.3" fill="#d42232"/><circle cx="592.2" cy="204.0" r="1.3" fill="#d42232"/><circle cx="615.8" cy="201.7" r="1.3" fill="#3ae0ea"/><circle cx="625.5" cy="198.9" r="1.3" fill="#3ae0ea"/><circle cx="616.3" cy="201.0" r="1.3" fill="#3ae0ea"/><circle cx="606.4" cy="203.1" r="1.3" fill="#3ae0ea"/><circle cx="600.0" cy="193.2" r="1.3" fill="#26b426"/><circle cx="600.0" cy="198.0" r="1.3" fill="#26b426"/><circle cx="542.4" cy="192.9" r="1.3" fill="#26b426"/><circle cx="546.0" cy="197.6" r="1.3" fill="#26b426"/><circle cx="555.7" cy="195.2" r="1.3" fill="#26b426"/><circle cx="562.0" cy="196.8" r="1.3" fill="#26b426"/><circle cx="571.4" cy="193.6" r="1.3" fill="#26b426"/><circle cx="577.7" cy="196.8" r="1.3" fill="#26b426"/><circle cx="581.0" cy="193.6" r="1.3" fill="#26b426"/><circle cx="549.4" cy="194.4" r="1.3" fill="#d42232"/><circle cx="562.0" cy="209.4" r="1.3" fill="#d42232"/><circle cx="546.3" cy="213.3" r="1.3" fill="#d42232"/><circle cx="571.4" cy="211.7" r="1.3" fill="#d42232"/><circle cx="580.9" cy="209.4" r="1.3" fill="#d42232"/><circle cx="584.0" cy="208.6" r="1.3" fill="#d42232"/><circle cx="596.6" cy="205.4" r="1.3" fill="#d42232"/><circle cx="599.7" cy="208.6" r="1.3" fill="#d42232"/><circle cx="606.0" cy="210.2" r="1.3" fill="#d42232"/><circle cx="552.6" cy="219.6" r="1.3" fill="#d42232"/><circle cx="574.6" cy="215.7" r="1.3" fill="#d42232"/><circle cx="577.7" cy="214.9" r="1.3" fill="#d42232"/><circle cx="580.9" cy="214.9" r="1.3" fill="#d42232"/><circle cx="587.2" cy="214.1" r="1.3" fill="#d42232"/><circle cx="590.3" cy="213.0" r="1.3" fill="#d42232"/><circle cx="594.2" cy="214.9" r="1.3" fill="#d42232"/><circle cx="558.9" cy="220.4" r="1.3" fill="#d42232"/><circle cx="543.1" cy="220.4" r="1.3" fill="#d42232"/><circle cx="546.3" cy="231.4" r="1.3" fill="#d42232"/><circle cx="602.9" cy="205.4" r="1.3" fill="#d42232"/><circle cx="542.4" cy="210.2" r="1.3" fill="#3ae0ea"/><circle cx="565.2" cy="208.6" r="1.3" fill="#3ae0ea"/><circle cx="571.4" cy="208.6" r="1.3" fill="#3ae0ea"/><circle cx="584.0" cy="204.7" r="1.3" fill="#3ae0ea"/><circle cx="587.2" cy="209.4" r="1.3" fill="#3ae0ea"/><circle cx="612.3" cy="205.4" r="1.3" fill="#3ae0ea"/><circle cx="616.3" cy="201.5" r="1.3" fill="#3ae0ea"/><circle cx="606.0" cy="203.9" r="1.3" fill="#3ae0ea"/><circle cx="552.6" cy="214.9" r="1.3" fill="#3ae0ea"/><circle cx="555.7" cy="216.4" r="1.3" fill="#3ae0ea"/><circle cx="562.0" cy="217.2" r="1.3" fill="#3ae0ea"/><circle cx="565.2" cy="218.8" r="1.3" fill="#3ae0ea"/><circle cx="568.3" cy="217.2" r="1.3" fill="#3ae0ea"/><circle cx="571.4" cy="216.4" r="1.3" fill="#3ae0ea"/><circle cx="596.6" cy="214.9" r="1.3" fill="#3ae0ea"/><circle cx="577.7" cy="218.8" r="1.3" fill="#3ae0ea"/><circle cx="540.0" cy="223.5" r="1.3" fill="#3ae0ea"/><circle cx="558.9" cy="214.1" r="1.3" fill="#3ae0ea"/><circle cx="549.4" cy="221.9" r="1.3" fill="#3ae0ea"/><circle cx="568.3" cy="213.3" r="1.3" fill="#3ae0ea"/><circle cx="555.7" cy="210.2" r="1.3" fill="#000000"/><circle cx="405.4" cy="229.6" r="1.3" fill="#000000"/><circle cx="408.4" cy="228.7" r="1.3" fill="#26b426"/><circle cx="411.4" cy="228.2" r="1.3" fill="#000000"/><circle cx="414.5" cy="227.7" r="1.3" fill="#26b426"/><circle cx="417.5" cy="227.0" r="1.3" fill="#26b426"/><circle cx="420.7" cy="226.8" r="1.3" fill="#26b426"/><circle cx="424.3" cy="226.3" r="1.3" fill="#000000"/><circle cx="427.1" cy="225.7" r="1.3" fill="#26b426"/><circle cx="430.5" cy="225.0" r="1.3" fill="#000000"/><circle cx="433.4" cy="224.7" r="1.3" fill="#26b426"/><circle cx="436.6" cy="224.3" r="1.3" fill="#26b426"/><circle cx="439.8" cy="223.9" r="1.3" fill="#000000"/><circle cx="443.0" cy="223.1" r="1.3" fill="#26b426"/><circle cx="446.3" cy="222.9" r="1.3" fill="#26b426"/><circle cx="449.7" cy="222.3" r="1.3" fill="#26b426"/><circle cx="452.8" cy="221.3" r="1.3" fill="#000000"/><circle cx="455.6" cy="221.1" r="1.3" fill="#26b426"/><circle cx="459.3" cy="220.7" r="1.3" fill="#26b426"/><circle cx="462.0" cy="220.0" r="1.3" fill="#000000"/><circle cx="465.6" cy="219.6" r="1.3" fill="#26b426"/><circle cx="468.7" cy="219.3" r="1.3" fill="#000000"/><circle cx="471.8" cy="218.6" r="1.3" fill="#26b426"/><circle cx="474.9" cy="217.9" r="1.3" fill="#26b426"/><circle cx="477.8" cy="217.8" r="1.3" fill="#000000"/><circle cx="404.7" cy="241.9" r="1.3" fill="#d42232"/><circle cx="408.5" cy="242.1" r="1.3" fill="#d42232"/><circle cx="411.5" cy="241.1" r="1.3" fill="#d42232"/><circle cx="415.3" cy="240.7" r="1.3" fill="#d42232"/><circle cx="418.3" cy="240.3" r="1.3" fill="#d42232"/><circle cx="421.3" cy="240.4" r="1.3" fill="#d42232"/><circle cx="425.1" cy="239.2" r="1.3" fill="#d42232"/><circle cx="428.0" cy="238.9" r="1.3" fill="#d42232"/><circle cx="431.5" cy="239.1" r="1.3" fill="#3ae0ea"/><circle cx="434.6" cy="238.2" r="1.3" fill="#d42232"/><circle cx="438.1" cy="238.0" r="1.3" fill="#d42232"/><circle cx="441.9" cy="237.6" r="1.3" fill="#d42232"/><circle cx="445.2" cy="237.2" r="1.3" fill="#d42232"/><circle cx="448.1" cy="237.0" r="1.3" fill="#d42232"/><circle cx="451.6" cy="236.3" r="1.3" fill="#d42232"/><circle cx="454.8" cy="235.8" r="1.3" fill="#d42232"/><circle cx="458.1" cy="235.1" r="1.3" fill="#3ae0ea"/><circle cx="461.2" cy="235.3" r="1.3" fill="#d42232"/><circle cx="464.5" cy="234.4" r="1.3" fill="#d42232"/><circle cx="467.8" cy="234.1" r="1.3" fill="#d42232"/><circle cx="471.0" cy="233.7" r="1.3" fill="#d42232"/><circle cx="474.8" cy="233.6" r="1.3" fill="#d42232"/><circle cx="478.3" cy="232.7" r="1.3" fill="#d42232"/><path d="M470.5,188.8L472.1,186.2L473.7,188.8Z" fill="#26b426"/><path d="M473.7,188.3L475.3,185.6L476.9,188.3Z" fill="#000000"/><path d="M477.5,187.5L479.1,184.9L480.7,187.5Z" fill="#000000"/><path d="M481.0,186.1L482.6,183.5L484.2,186.1Z" fill="#26b426"/><path d="M483.9,185.7L485.5,183.0L487.1,185.7Z" fill="#26b426"/><path d="M487.0,184.5L488.6,181.8L490.2,184.5Z" fill="#000000"/><path d="M490.7,184.1L492.3,181.4L493.9,184.1Z" fill="#000000"/><path d="M493.9,182.8L495.5,180.2L497.1,182.8Z" fill="#26b426"/><path d="M497.5,182.5L499.1,179.9L500.7,182.5Z" fill="#26b426"/><path d="M501.1,181.9L502.7,179.2L504.3,181.9Z" fill="#26b426"/><path d="M504.5,181.0L506.1,178.3L507.7,181.0Z" fill="#26b426"/><circle cx="472.0" cy="217.7" r="1.3" fill="#000000"/><circle cx="475.1" cy="216.8" r="1.3" fill="#26b426"/><circle cx="478.1" cy="216.5" r="1.3" fill="#26b426"/><circle cx="481.8" cy="215.4" r="1.3" fill="#26b426"/><circle cx="484.6" cy="215.0" r="1.3" fill="#26b426"/><circle cx="487.9" cy="214.6" r="1.3" fill="#000000"/><circle cx="491.1" cy="213.6" r="1.3" fill="#26b426"/><circle cx="494.4" cy="213.4" r="1.3" fill="#26b426"/><circle cx="497.5" cy="212.5" r="1.3" fill="#26b426"/><circle cx="500.5" cy="211.7" r="1.3" fill="#26b426"/><circle cx="504.3" cy="210.9" r="1.3" fill="#26b426"/><circle cx="507.1" cy="210.5" r="1.3" fill="#26b426"/><circle cx="510.4" cy="209.8" r="1.3" fill="#26b426"/><circle cx="513.7" cy="209.2" r="1.3" fill="#000000"/><circle cx="516.7" cy="208.4" r="1.3" fill="#26b426"/><circle cx="519.9" cy="207.8" r="1.3" fill="#26b426"/><circle cx="523.2" cy="207.4" r="1.3" fill="#26b426"/><circle cx="526.3" cy="206.4" r="1.3" fill="#26b426"/><circle cx="529.8" cy="206.1" r="1.3" fill="#26b426"/><circle cx="532.6" cy="205.3" r="1.3" fill="#000000"/><circle cx="535.8" cy="204.6" r="1.3" fill="#26b426"/><circle cx="538.9" cy="203.8" r="1.3" fill="#26b426"/><circle cx="542.4" cy="203.3" r="1.3" fill="#26b426"/><circle cx="545.9" cy="202.7" r="1.3" fill="#26b426"/><circle cx="548.8" cy="201.9" r="1.3" fill="#000000"/><circle cx="551.7" cy="201.2" r="1.3" fill="#26b426"/><circle cx="472.0" cy="233.2" r="1.3" fill="#d42232"/><circle cx="475.1" cy="232.6" r="1.3" fill="#d42232"/><circle cx="478.3" cy="232.2" r="1.3" fill="#d42232"/><circle cx="482.3" cy="231.5" r="1.3" fill="#d42232"/><path d="M481.6,185.8L483.2,183.2L484.8,185.8Z" fill="#26b426"/><path d="M484.3,184.5L485.9,181.8L487.5,184.5Z" fill="#000000"/><path d="M487.9,183.9L489.5,181.3L491.1,183.9Z" fill="#000000"/><path d="M490.5,183.2L492.1,180.6L493.7,183.2Z" fill="#26b426"/><path d="M494.3,183.0L495.9,180.3L497.5,183.0Z" fill="#26b426"/><path d="M497.2,182.2L498.8,179.5L500.4,182.2Z" fill="#26b426"/><path d="M499.9,180.9L501.5,178.3L503.1,180.9Z" fill="#26b426"/><path d="M502.9,179.9L504.5,177.2L506.1,179.9Z" fill="#26b426"/><path d="M506.9,178.9L508.5,176.3L510.1,178.9Z" fill="#000000"/><path d="M509.8,178.6L511.4,175.9L513.0,178.6Z" fill="#26b426"/><path d="M513.3,178.3L514.9,175.6L516.5,178.3Z" fill="#26b426"/><path d="M515.6,176.8L517.2,174.1L518.8,176.8Z" fill="#26b426"/><path d="M519.6,176.1L521.2,173.4L522.8,176.1Z" fill="#26b426"/><path d="M521.9,175.8L523.5,173.2L525.1,175.8Z" fill="#000000"/><path d="M525.5,174.5L527.1,171.8L528.7,174.5Z" fill="#26b426"/><path d="M528.6,173.8L530.2,171.1L531.8,173.8Z" fill="#000000"/><path d="M531.6,173.1L533.2,170.5L534.8,173.1Z" fill="#26b426"/><path d="M534.5,172.4L536.1,169.8L537.7,172.4Z" fill="#000000"/><path d="M538.4,171.6L540.0,168.9L541.6,171.6Z" fill="#000000"/><path d="M541.4,170.5L543.0,167.9L544.6,170.5Z" fill="#26b426"/><path d="M543.9,169.4L545.5,166.8L547.1,169.4Z" fill="#26b426"/><path d="M547.9,168.8L549.5,166.1L551.1,168.8Z" fill="#26b426"/><path d="M601.1,153.2L602.7,150.5L604.3,153.2Z" fill="#000000"/><path d="M604.6,152.3L606.2,149.7L607.8,152.3Z" fill="#26b426"/><path d="M607.6,151.7L609.2,149.0L610.8,151.7Z" fill="#d42232"/><path d="M610.9,150.8L612.5,148.2L614.1,150.8Z" fill="#26b426"/><path d="M613.8,149.9L615.4,147.3L617.0,149.9Z" fill="#000000"/><path d="M617.1,148.8L618.7,146.2L620.3,148.8Z" fill="#26b426"/><path d="M620.6,147.8L622.2,145.2L623.8,147.8Z" fill="#000000"/><path d="M623.9,147.6L625.5,144.9L627.1,147.6Z" fill="#000000"/><path d="M626.8,146.2L628.4,143.6L630.0,146.2Z" fill="#26b426"/><path d="M630.8,145.6L632.4,142.9L634.0,145.6Z" fill="#26b426"/><path d="M633.5,145.1L635.1,142.5L636.7,145.1Z" fill="#000000"/><path d="M637.1,143.7L638.7,141.1L640.3,143.7Z" fill="#26b426"/><path d="M640.2,142.9L641.8,140.2L643.4,142.9Z" fill="#000000"/><circle cx="552.2" cy="201.2" r="1.3" fill="#26b426"/><circle cx="555.4" cy="200.1" r="1.3" fill="#000000"/><circle cx="558.7" cy="199.5" r="1.3" fill="#26b426"/><circle cx="561.9" cy="198.8" r="1.3" fill="#26b426"/><circle cx="565.1" cy="197.8" r="1.3" fill="#000000"/><circle cx="567.7" cy="197.3" r="1.3" fill="#26b426"/><circle cx="571.6" cy="196.5" r="1.3" fill="#000000"/><circle cx="574.5" cy="195.5" r="1.3" fill="#26b426"/><circle cx="577.7" cy="194.9" r="1.3" fill="#26b426"/><circle cx="581.1" cy="194.4" r="1.3" fill="#26b426"/><circle cx="584.1" cy="193.2" r="1.3" fill="#26b426"/><circle cx="587.0" cy="193.0" r="1.3" fill="#000000"/><circle cx="590.6" cy="191.7" r="1.3" fill="#26b426"/><circle cx="593.9" cy="190.9" r="1.3" fill="#000000"/><circle cx="596.9" cy="190.6" r="1.3" fill="#26b426"/><circle cx="599.8" cy="189.3" r="1.3" fill="#26b426"/><circle cx="603.0" cy="188.6" r="1.3" fill="#26b426"/><circle cx="606.5" cy="187.9" r="1.3" fill="#000000"/><circle cx="609.6" cy="186.9" r="1.3" fill="#26b426"/><circle cx="612.9" cy="186.4" r="1.3" fill="#000000"/><circle cx="616.3" cy="185.6" r="1.3" fill="#000000"/><circle cx="619.4" cy="184.8" r="1.3" fill="#26b426"/><circle cx="622.8" cy="183.9" r="1.3" fill="#26b426"/><circle cx="625.8" cy="183.3" r="1.3" fill="#000000"/><circle cx="629.0" cy="182.6" r="1.3" fill="#26b426"/><path d="M543.5,196.3L545.1,193.6L546.7,196.3Z" fill="#26b426"/><path d="M551.8,195.4L553.4,192.8L555.0,195.4Z" fill="#26b426"/><path d="M559.2,193.1L560.8,190.5L562.4,193.1Z" fill="#26b426"/><path d="M567.4,190.8L569.0,188.1L570.6,190.8Z" fill="#3ae0ea"/><path d="M575.0,189.2L576.6,186.5L578.2,189.2Z" fill="#26b426"/><path d="M582.7,187.2L584.3,184.6L585.9,187.2Z" fill="#26b426"/><path d="M590.7,185.1L592.3,182.4L593.9,185.1Z" fill="#26b426"/><path d="M543.3,154.9L544.9,152.3L546.5,154.9Z" fill="#26b426"/><path d="M543.4,157.7L545.0,155.1L546.6,157.7Z" fill="#000000"/><path d="M543.3,163.5L544.9,160.9L546.5,163.5Z" fill="#26b426"/><path d="M543.5,165.8L545.1,163.1L546.7,165.8Z" fill="#000000"/><path d="M543.4,168.9L545.0,166.3L546.6,168.9Z" fill="#26b426"/><path d="M546.7,155.0L548.3,152.4L549.9,155.0Z" fill="#26b426"/><path d="M546.7,156.8L548.3,154.2L549.9,156.8Z" fill="#000000"/><path d="M546.3,160.1L547.9,157.5L549.5,160.1Z" fill="#000000"/><path d="M546.6,162.1L548.2,159.4L549.8,162.1Z" fill="#26b426"/><path d="M546.4,165.5L548.0,162.9L549.6,165.5Z" fill="#26b426"/><path d="M549.5,153.8L551.1,151.1L552.7,153.8Z" fill="#26b426"/><path d="M550.0,156.9L551.6,154.3L553.2,156.9Z" fill="#000000"/><path d="M550.0,158.7L551.6,156.1L553.2,158.7Z" fill="#26b426"/><path d="M549.3,164.1L550.9,161.4L552.5,164.1Z" fill="#000000"/><path d="M549.7,167.0L551.3,164.3L552.9,167.0Z" fill="#000000"/><path d="M552.5,152.6L554.1,150.0L555.7,152.6Z" fill="#26b426"/><path d="M553.1,155.2L554.7,152.5L556.3,155.2Z" fill="#26b426"/><path d="M552.5,158.2L554.1,155.5L555.7,158.2Z" fill="#000000"/><path d="M552.6,160.5L554.2,157.9L555.8,160.5Z" fill="#000000"/><path d="M553.1,164.0L554.7,161.4L556.3,164.0Z" fill="#26b426"/><path d="M552.4,166.7L554.0,164.0L555.6,166.7Z" fill="#000000"/><path d="M555.7,152.6L557.3,149.9L558.9,152.6Z" fill="#000000"/><path d="M555.9,157.1L557.5,154.5L559.1,157.1Z" fill="#26b426"/><path d="M556.0,160.5L557.6,157.8L559.2,160.5Z" fill="#d42232"/><path d="M555.8,162.8L557.4,160.2L559.0,162.8Z" fill="#26b426"/><path d="M555.8,165.8L557.4,163.1L559.0,165.8Z" fill="#26b426"/><path d="M558.9,150.9L560.5,148.2L562.1,150.9Z" fill="#26b426"/><path d="M559.2,154.2L560.8,151.6L562.4,154.2Z" fill="#26b426"/><path d="M559.4,156.3L561.0,153.6L562.6,156.3Z" fill="#000000"/><path d="M559.1,160.0L560.7,157.3L562.3,160.0Z" fill="#000000"/><path d="M559.5,162.6L561.1,159.9L562.7,162.6Z" fill="#000000"/><path d="M559.1,165.2L560.7,162.5L562.3,165.2Z" fill="#26b426"/><path d="M562.2,151.1L563.8,148.4L565.4,151.1Z" fill="#000000"/><path d="M562.3,153.0L563.9,150.3L565.5,153.0Z" fill="#000000"/><path d="M562.1,156.1L563.7,153.4L565.3,156.1Z" fill="#26b426"/><path d="M562.6,159.4L564.2,156.7L565.8,159.4Z" fill="#26b426"/><path d="M562.4,161.0L564.0,158.4L565.6,161.0Z" fill="#26b426"/><path d="M562.7,164.4L564.3,161.7L565.9,164.4Z" fill="#000000"/><path d="M565.8,150.0L567.4,147.3L569.0,150.0Z" fill="#26b426"/><path d="M565.5,152.1L567.1,149.5L568.7,152.1Z" fill="#000000"/><path d="M565.4,154.8L567.0,152.2L568.6,154.8Z" fill="#000000"/><path d="M565.2,158.2L566.8,155.6L568.4,158.2Z" fill="#000000"/><path d="M565.8,160.4L567.4,157.8L569.0,160.4Z" fill="#26b426"/><path d="M565.6,163.5L567.2,160.9L568.8,163.5Z" fill="#000000"/><path d="M568.8,148.9L570.4,146.3L572.0,148.9Z" fill="#26b426"/><path d="M568.5,152.5L570.1,149.8L571.7,152.5Z" fill="#26b426"/><path d="M568.7,154.6L570.3,152.0L571.9,154.6Z" fill="#d42232"/><path d="M568.8,157.2L570.4,154.6L572.0,157.2Z" fill="#26b426"/><path d="M568.7,160.2L570.3,157.5L571.9,160.2Z" fill="#26b426"/><path d="M568.6,162.9L570.2,160.2L571.8,162.9Z" fill="#000000"/><path d="M572.0,148.2L573.6,145.5L575.2,148.2Z" fill="#26b426"/><path d="M572.2,151.6L573.8,148.9L575.4,151.6Z" fill="#26b426"/><path d="M572.1,156.6L573.7,153.9L575.3,156.6Z" fill="#000000"/><path d="M572.3,159.8L573.9,157.2L575.5,159.8Z" fill="#26b426"/><path d="M575.4,147.7L577.0,145.1L578.6,147.7Z" fill="#000000"/><path d="M575.1,150.7L576.7,148.0L578.3,150.7Z" fill="#d42232"/><path d="M575.0,152.5L576.6,149.8L578.2,152.5Z" fill="#26b426"/><path d="M575.2,155.8L576.8,153.2L578.4,155.8Z" fill="#d42232"/><path d="M575.1,158.6L576.7,156.0L578.3,158.6Z" fill="#000000"/><path d="M575.0,161.3L576.6,158.6L578.2,161.3Z" fill="#3ae0ea"/><path d="M578.4,146.5L580.0,143.9L581.6,146.5Z" fill="#000000"/><path d="M577.9,149.7L579.5,147.0L581.1,149.7Z" fill="#26b426"/><path d="M578.0,151.9L579.6,149.2L581.2,151.9Z" fill="#000000"/><path d="M578.4,157.8L580.0,155.1L581.6,157.8Z" fill="#26b426"/><path d="M578.3,160.1L579.9,157.5L581.5,160.1Z" fill="#26b426"/><path d="M581.0,149.0L582.6,146.3L584.2,149.0Z" fill="#3ae0ea"/><path d="M581.4,151.9L583.0,149.3L584.6,151.9Z" fill="#26b426"/><path d="M581.1,154.4L582.7,151.8L584.3,154.4Z" fill="#000000"/><path d="M581.3,159.5L582.9,156.8L584.5,159.5Z" fill="#000000"/><path d="M585.0,150.6L586.6,148.0L588.2,150.6Z" fill="#26b426"/><path d="M584.4,156.4L586.0,153.8L587.6,156.4Z" fill="#26b426"/><path d="M587.9,145.1L589.5,142.5L591.1,145.1Z" fill="#26b426"/><path d="M587.6,147.7L589.2,145.0L590.8,147.7Z" fill="#26b426"/><path d="M588.1,150.4L589.7,147.7L591.3,150.4Z" fill="#d42232"/><path d="M587.4,153.1L589.0,150.4L590.6,153.1Z" fill="#26b426"/><path d="M587.5,155.9L589.1,153.2L590.7,155.9Z" fill="#000000"/><path d="M588.0,158.1L589.6,155.4L591.2,158.1Z" fill="#000000"/><path d="M590.8,144.0L592.4,141.3L594.0,144.0Z" fill="#26b426"/><path d="M591.1,146.7L592.7,144.0L594.3,146.7Z" fill="#26b426"/><path d="M590.9,152.3L592.5,149.6L594.1,152.3Z" fill="#000000"/><path d="M590.7,154.2L592.3,151.6L593.9,154.2Z" fill="#3ae0ea"/><path d="M591.1,157.0L592.7,154.4L594.3,157.0Z" fill="#000000"/><path d="M594.0,143.5L595.6,140.9L597.2,143.5Z" fill="#000000"/><path d="M593.9,146.1L595.5,143.4L597.1,146.1Z" fill="#000000"/><path d="M594.5,148.0L596.1,145.3L597.7,148.0Z" fill="#3ae0ea"/><path d="M594.4,151.2L596.0,148.5L597.6,151.2Z" fill="#000000"/><path d="M594.4,153.8L596.0,151.2L597.6,153.8Z" fill="#26b426"/><path d="M597.1,142.7L598.7,140.0L600.3,142.7Z" fill="#000000"/><path d="M597.1,147.2L598.7,144.6L600.3,147.2Z" fill="#000000"/><path d="M597.5,153.7L599.1,151.0L600.7,153.7Z" fill="#26b426"/><path d="M597.2,155.3L598.8,152.7L600.4,155.3Z" fill="#000000"/><path d="M600.4,141.4L602.0,138.7L603.6,141.4Z" fill="#26b426"/><path d="M600.8,144.7L602.4,142.1L604.0,144.7Z" fill="#000000"/><path d="M600.8,146.7L602.4,144.1L604.0,146.7Z" fill="#000000"/><path d="M600.6,150.0L602.2,147.3L603.8,150.0Z" fill="#d42232"/><path d="M600.8,152.2L602.4,149.6L604.0,152.2Z" fill="#d42232"/><path d="M603.7,141.3L605.3,138.7L606.9,141.3Z" fill="#26b426"/><path d="M603.5,143.2L605.1,140.5L606.7,143.2Z" fill="#26b426"/><path d="M603.5,146.3L605.1,143.7L606.7,146.3Z" fill="#26b426"/><path d="M607.2,139.8L608.8,137.1L610.4,139.8Z" fill="#26b426"/><path d="M607.1,143.0L608.7,140.4L610.3,143.0Z" fill="#26b426"/><path d="M607.0,145.5L608.6,142.9L610.2,145.5Z" fill="#26b426"/><path d="M606.6,147.7L608.2,145.0L609.8,147.7Z" fill="#26b426"/><path d="M607.1,151.0L608.7,148.3L610.3,151.0Z" fill="#26b426"/><path d="M610.1,139.4L611.7,136.7L613.3,139.4Z" fill="#3ae0ea"/><path d="M609.9,142.2L611.5,139.5L613.1,142.2Z" fill="#26b426"/><path d="M609.9,146.9L611.5,144.2L613.1,146.9Z" fill="#26b426"/><path d="M610.5,149.6L612.1,146.9L613.7,149.6Z" fill="#000000"/><path d="M613.1,138.3L614.7,135.6L616.3,138.3Z" fill="#26b426"/><path d="M613.6,144.1L615.2,141.5L616.8,144.1Z" fill="#26b426"/><path d="M612.9,147.3L614.5,144.6L616.1,147.3Z" fill="#000000"/><path d="M613.3,149.8L614.9,147.1L616.5,149.8Z" fill="#26b426"/><path d="M616.1,140.1L617.7,137.4L619.3,140.1Z" fill="#26b426"/><path d="M616.2,145.3L617.8,142.7L619.4,145.3Z" fill="#26b426"/><path d="M616.5,149.1L618.1,146.4L619.7,149.1Z" fill="#26b426"/><path d="M619.5,136.7L621.1,134.0L622.7,136.7Z" fill="#26b426"/><path d="M620.0,139.4L621.6,136.8L623.2,139.4Z" fill="#26b426"/><path d="M619.5,142.1L621.1,139.5L622.7,142.1Z" fill="#26b426"/><path d="M619.8,145.3L621.4,142.6L623.0,145.3Z" fill="#000000"/><path d="M622.5,138.9L624.1,136.3L625.7,138.9Z" fill="#000000"/><path d="M622.5,141.4L624.1,138.7L625.7,141.4Z" fill="#26b426"/><path d="M623.2,143.8L624.8,141.2L626.4,143.8Z" fill="#3ae0ea"/><path d="M622.8,147.2L624.4,144.5L626.0,147.2Z" fill="#26b426"/><path d="M626.0,135.0L627.6,132.4L629.2,135.0Z" fill="#26b426"/><path d="M626.3,143.1L627.9,140.5L629.5,143.1Z" fill="#000000"/><path d="M625.8,146.7L627.4,144.1L629.0,146.7Z" fill="#26b426"/><path d="M629.5,135.4L631.1,132.7L632.7,135.4Z" fill="#000000"/><path d="M628.9,137.3L630.5,134.7L632.1,137.3Z" fill="#000000"/><path d="M629.1,140.6L630.7,137.9L632.3,140.6Z" fill="#26b426"/><path d="M629.2,143.4L630.8,140.8L632.4,143.4Z" fill="#000000"/><path d="M629.3,145.5L630.9,142.8L632.5,145.5Z" fill="#d42232"/><path d="M632.5,134.2L634.1,131.5L635.7,134.2Z" fill="#26b426"/><path d="M632.5,138.9L634.1,136.3L635.7,138.9Z" fill="#26b426"/><path d="M632.5,142.5L634.1,139.8L635.7,142.5Z" fill="#000000"/><path d="M635.9,133.5L637.5,130.9L639.1,133.5Z" fill="#26b426"/><path d="M635.8,136.4L637.4,133.8L639.0,136.4Z" fill="#000000"/><path d="M635.7,139.0L637.3,136.3L638.9,139.0Z" fill="#26b426"/><path d="M635.5,141.9L637.1,139.3L638.7,141.9Z" fill="#26b426"/><path d="M635.2,143.6L636.8,140.9L638.4,143.6Z" fill="#26b426"/><path d="M638.5,132.8L640.1,130.2L641.7,132.8Z" fill="#000000"/><path d="M638.9,135.6L640.5,132.9L642.1,135.6Z" fill="#26b426"/><path d="M638.7,138.1L640.3,135.5L641.9,138.1Z" fill="#000000"/><path d="M639.1,142.8L640.7,140.1L642.3,142.8Z" fill="#000000"/><path d="M546.2,178.7L547.8,176.1L549.4,178.7Z" fill="#d42232"/><path d="M546.2,187.3L547.8,184.7L549.4,187.3Z" fill="#26b426"/><path d="M546.6,188.9L548.2,186.2L549.8,188.9Z" fill="#26b426"/><path d="M550.0,177.8L551.6,175.2L553.2,177.8Z" fill="#3ae0ea"/><path d="M549.2,180.9L550.8,178.2L552.4,180.9Z" fill="#d42232"/><path d="M549.4,186.8L551.0,184.1L552.6,186.8Z" fill="#26b426"/><path d="M552.8,180.6L554.4,177.9L556.0,180.6Z" fill="#26b426"/><path d="M552.6,182.8L554.2,180.2L555.8,182.8Z" fill="#3ae0ea"/><path d="M553.0,188.0L554.6,185.4L556.2,188.0Z" fill="#26b426"/><path d="M556.0,177.1L557.6,174.4L559.2,177.1Z" fill="#26b426"/><path d="M556.3,180.1L557.9,177.4L559.5,180.1Z" fill="#d42232"/><path d="M556.1,182.9L557.7,180.3L559.3,182.9Z" fill="#3ae0ea"/><path d="M555.8,185.2L557.4,182.6L559.0,185.2Z" fill="#d42232"/><path d="M559.3,179.0L560.9,176.3L562.5,179.0Z" fill="#d42232"/><path d="M559.4,184.4L561.0,181.7L562.6,184.4Z" fill="#000000"/><path d="M558.8,186.9L560.4,184.3L562.0,186.9Z" fill="#3ae0ea"/><path d="M562.0,176.1L563.6,173.4L565.2,176.1Z" fill="#d42232"/><path d="M562.3,184.4L563.9,181.8L565.5,184.4Z" fill="#d42232"/><path d="M562.0,187.3L563.6,184.7L565.2,187.3Z" fill="#3ae0ea"/><path d="M565.8,180.8L567.4,178.2L569.0,180.8Z" fill="#d42232"/><path d="M565.7,183.9L567.3,181.2L568.9,183.9Z" fill="#3ae0ea"/><path d="M565.2,185.8L566.8,183.1L568.4,185.8Z" fill="#d42232"/><path d="M569.1,180.5L570.7,177.8L572.3,180.5Z" fill="#3ae0ea"/><path d="M569.0,185.3L570.6,182.7L572.2,185.3Z" fill="#3ae0ea"/><path d="M571.7,174.6L573.3,171.9L574.9,174.6Z" fill="#26b426"/><path d="M571.6,185.1L573.2,182.5L574.8,185.1Z" fill="#26b426"/><path d="M574.7,173.4L576.3,170.8L577.9,173.4Z" fill="#3ae0ea"/><path d="M575.4,176.6L577.0,173.9L578.6,176.6Z" fill="#d42232"/><path d="M575.3,179.8L576.9,177.2L578.5,179.8Z" fill="#3ae0ea"/><path d="M575.3,185.2L576.9,182.6L578.5,185.2Z" fill="#3ae0ea"/><path d="M578.0,172.8L579.6,170.2L581.2,172.8Z" fill="#3ae0ea"/><path d="M578.4,176.0L580.0,173.3L581.6,176.0Z" fill="#d42232"/><path d="M578.6,179.3L580.2,176.7L581.8,179.3Z" fill="#d42232"/><path d="M577.9,181.4L579.5,178.7L581.1,181.4Z" fill="#3ae0ea"/><path d="M578.1,184.4L579.7,181.8L581.3,184.4Z" fill="#3ae0ea"/><path d="M581.5,172.6L583.1,170.0L584.7,172.6Z" fill="#3ae0ea"/><path d="M584.8,172.1L586.4,169.5L588.0,172.1Z" fill="#3ae0ea"/><path d="M587.8,172.1L589.4,169.4L591.0,172.1Z" fill="#3ae0ea"/><path d="M588.1,177.8L589.7,175.2L591.3,177.8Z" fill="#3ae0ea"/><path d="M588.0,180.0L589.6,177.4L591.2,180.0Z" fill="#26b426"/><path d="M590.6,171.8L592.2,169.2L593.8,171.8Z" fill="#3ae0ea"/><path d="M591.2,176.3L592.8,173.7L594.4,176.3Z" fill="#3ae0ea"/><path d="M591.0,180.0L592.6,177.3L594.2,180.0Z" fill="#3ae0ea"/><path d="M591.2,182.0L592.8,179.3L594.4,182.0Z" fill="#3ae0ea"/><path d="M593.9,173.4L595.5,170.7L597.1,173.4Z" fill="#d42232"/><path d="M597.4,173.5L599.0,170.9L600.6,173.5Z" fill="#3ae0ea"/><path d="M597.5,176.0L599.1,173.4L600.7,176.0Z" fill="#3ae0ea"/><path d="M597.2,180.8L598.8,178.1L600.4,180.8Z" fill="#3ae0ea"/><path d="M600.2,169.9L601.8,167.3L603.4,169.9Z" fill="#d42232"/><path d="M600.5,175.5L602.1,172.8L603.7,175.5Z" fill="#26b426"/><path d="M600.8,177.3L602.4,174.7L604.0,177.3Z" fill="#d42232"/><path d="M600.2,180.4L601.8,177.8L603.4,180.4Z" fill="#3ae0ea"/><path d="M604.0,172.5L605.6,169.8L607.2,172.5Z" fill="#26b426"/><path d="M604.0,180.4L605.6,177.8L607.2,180.4Z" fill="#3ae0ea"/><path d="M606.8,168.7L608.4,166.0L610.0,168.7Z" fill="#3ae0ea"/><path d="M607.2,177.2L608.8,174.5L610.4,177.2Z" fill="#26b426"/><path d="M607.0,179.0L608.6,176.4L610.2,179.0Z" fill="#d42232"/><path d="M609.7,167.9L611.3,165.2L612.9,167.9Z" fill="#26b426"/><path d="M610.4,171.2L612.0,168.5L613.6,171.2Z" fill="#26b426"/><path d="M610.5,173.2L612.1,170.6L613.7,173.2Z" fill="#d42232"/><path d="M613.6,167.5L615.2,164.8L616.8,167.5Z" fill="#26b426"/><path d="M613.4,172.8L615.0,170.1L616.6,172.8Z" fill="#3ae0ea"/><path d="M613.0,176.2L614.6,173.6L616.2,176.2Z" fill="#3ae0ea"/><path d="M613.4,178.1L615.0,175.5L616.6,178.1Z" fill="#d42232"/><path d="M616.6,169.7L618.2,167.1L619.8,169.7Z" fill="#d42232"/><path d="M616.3,175.2L617.9,172.6L619.5,175.2Z" fill="#d42232"/><path d="M616.7,177.6L618.3,174.9L619.9,177.6Z" fill="#d42232"/><path d="M620.0,166.9L621.6,164.3L623.2,166.9Z" fill="#26b426"/><path d="M619.3,169.6L620.9,167.0L622.5,169.6Z" fill="#3ae0ea"/><path d="M619.6,171.6L621.2,168.9L622.8,171.6Z" fill="#d42232"/><path d="M623.1,171.2L624.7,168.6L626.3,171.2Z" fill="#d42232"/><path d="M622.6,177.4L624.2,174.7L625.8,177.4Z" fill="#d42232"/><path d="M625.6,168.8L627.2,166.1L628.8,168.8Z" fill="#d42232"/><path d="M625.7,176.6L627.3,173.9L628.9,176.6Z" fill="#26b426"/><path d="M629.0,168.3L630.6,165.6L632.2,168.3Z" fill="#3ae0ea"/><path d="M629.4,172.9L631.0,170.3L632.6,172.9Z" fill="#d42232"/><path d="M629.6,176.1L631.2,173.5L632.8,176.1Z" fill="#3ae0ea"/><path d="M632.0,164.8L633.6,162.2L635.2,164.8Z" fill="#3ae0ea"/><path d="M632.3,169.6L633.9,167.0L635.5,169.6Z" fill="#3ae0ea"/><path d="M632.7,172.2L634.3,169.5L635.9,172.2Z" fill="#3ae0ea"/><path d="M511.0,193.6L512.6,191.0L514.2,193.6Z" fill="#3ae0ea"/><path d="M514.5,187.8L516.1,185.2L517.7,187.8Z" fill="#26b426"/><path d="M517.8,186.6L519.4,184.0L521.0,186.6Z" fill="#3ae0ea"/><path d="M517.5,190.1L519.1,187.4L520.7,190.1Z" fill="#d42232"/><path d="M517.6,192.4L519.2,189.7L520.8,192.4Z" fill="#3ae0ea"/><path d="M518.1,195.4L519.7,192.7L521.3,195.4Z" fill="#3ae0ea"/><path d="M520.7,184.1L522.3,181.5L523.9,184.1Z" fill="#3ae0ea"/><path d="M520.8,186.7L522.4,184.0L524.0,186.7Z" fill="#3ae0ea"/><path d="M521.2,194.0L522.8,191.4L524.4,194.0Z" fill="#3ae0ea"/><path d="M523.9,188.4L525.5,185.7L527.1,188.4Z" fill="#3ae0ea"/><path d="M524.3,190.7L525.9,188.1L527.5,190.7Z" fill="#3ae0ea"/><path d="M524.0,193.8L525.6,191.1L527.2,193.8Z" fill="#3ae0ea"/><path d="M527.2,187.4L528.8,184.7L530.4,187.4Z" fill="#3ae0ea"/><path d="M530.3,186.6L531.9,184.0L533.5,186.6Z" fill="#d42232"/><path d="M530.8,190.0L532.4,187.3L534.0,190.0Z" fill="#3ae0ea"/><path d="M534.0,181.5L535.6,178.9L537.2,181.5Z" fill="#3ae0ea"/><path d="M533.6,183.3L535.2,180.6L536.8,183.3Z" fill="#3ae0ea"/><path d="M533.6,189.2L535.2,186.6L536.8,189.2Z" fill="#d42232"/><path d="M537.2,180.2L538.8,177.5L540.4,180.2Z" fill="#26b426"/><path d="M537.0,182.6L538.6,179.9L540.2,182.6Z" fill="#3ae0ea"/><path d="M536.5,188.4L538.1,185.8L539.7,188.4Z" fill="#3ae0ea"/><path d="M539.7,181.8L541.3,179.1L542.9,181.8Z" fill="#3ae0ea"/><path d="M539.7,184.8L541.3,182.1L542.9,184.8Z" fill="#3ae0ea"/><path d="M539.6,187.4L541.2,184.8L542.8,187.4Z" fill="#3ae0ea"/><path d="M540.2,189.8L541.8,187.1L543.4,189.8Z" fill="#3ae0ea"/><path d="M546.0,177.5L547.6,174.8L549.2,177.5Z" fill="#3ae0ea"/><path d="M546.8,181.2L548.4,178.5L550.0,181.2Z" fill="#3ae0ea"/><path d="M546.3,183.3L547.9,180.7L549.5,183.3Z" fill="#26b426"/><path d="M546.4,186.2L548.0,183.6L549.6,186.2Z" fill="#3ae0ea"/><path d="M549.8,179.7L551.4,177.1L553.0,179.7Z" fill="#3ae0ea"/><path d="M550.0,182.3L551.6,179.7L553.2,182.3Z" fill="#3ae0ea"/><path d="M549.6,187.8L551.2,185.1L552.8,187.8Z" fill="#d42232"/></g>
</svg>
</body></html>
